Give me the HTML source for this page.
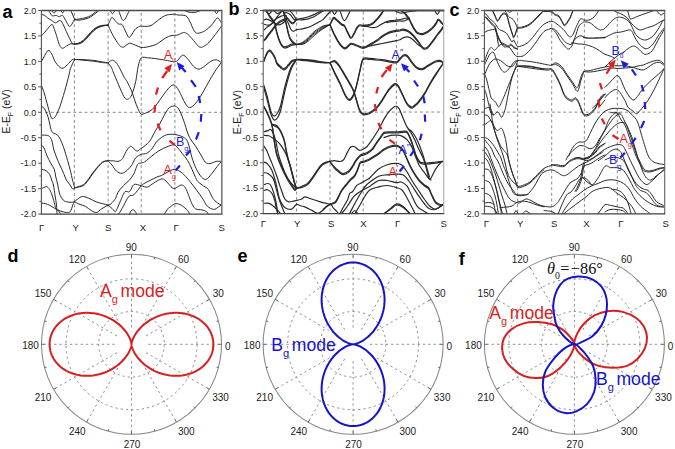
<!DOCTYPE html>
<html><head><meta charset="utf-8"><style>
html,body{margin:0;padding:0;background:#fff;width:675px;height:449px;overflow:hidden}
svg{display:block}
</style></head><body>
<svg width="675" height="449" viewBox="0 0 675 449">
<rect width="675" height="449" fill="#fff"/>
<g stroke="#8a8a8a" stroke-width="1" stroke-dasharray="3,2.63" fill="none">
<line x1="45.1" y1="112.3" x2="221.8" y2="112.3"/>
<line x1="74.4" y1="12.9" x2="74.4" y2="214.1"/>
<line x1="108.1" y1="12.9" x2="108.1" y2="214.1"/>
<line x1="141.2" y1="12.9" x2="141.2" y2="214.1"/>
<line x1="174.9" y1="12.9" x2="174.9" y2="214.1"/>
</g>
<g stroke="#2a2a2a" stroke-width="1" fill="none" stroke-linejoin="round" stroke-linecap="round">
<path d="M41.6,61.3 C42.12,60.33 43.6,57.32 44.7,55.5 C45.8,53.68 47.03,50.67 48.2,50.4 C49.37,50.13 50.47,51.88 51.7,53.9 C52.93,55.92 53.92,60.1 55.6,62.5 C57.28,64.9 59.85,67.92 61.8,68.3 C63.75,68.68 65.6,66.22 67.3,64.8 C69,63.38 70.82,60.7 72,59.8 C73.18,58.9 74,59.47 74.4,59.4"/>
<path d="M74.4,59.4 C75.33,59.42 78.07,59.43 80,59.5 C81.93,59.57 83.7,59.65 86,59.8 C88.3,59.95 91.2,60.07 93.8,60.4 C96.4,60.73 99.22,61.38 101.6,61.8 C103.98,62.22 107.02,62.72 108.1,62.9"/>
<path d="M74.4,59.4 C75.33,59.48 78.07,59.72 80,59.9 C81.93,60.08 83.7,60.28 86,60.5 C88.3,60.72 91.2,60.87 93.8,61.2 C96.4,61.53 99.22,62.22 101.6,62.5 C103.98,62.78 107.02,62.83 108.1,62.9"/>
<path d="M108.1,62.9 C108.7,62.47 110.58,60.57 111.7,60.3 C112.82,60.03 113.63,60.28 114.8,61.3 C115.97,62.32 117.13,63.73 118.7,66.4 C120.27,69.07 122.8,74.77 124.2,77.3 C125.6,79.83 125.82,79.18 127.1,81.6 C128.38,84.02 130.65,88.77 131.9,91.8 C133.15,94.83 133.62,97.03 134.6,99.8 C135.58,102.57 136.73,106.03 137.8,108.4 C138.87,110.77 139.75,113.2 141,114 C142.25,114.8 143.8,113.7 145.3,113.2 C146.8,112.7 148.32,112.2 150,111 C151.68,109.8 153.2,108.63 155.4,106 C157.6,103.37 160.87,98.3 163.2,95.2 C165.53,92.1 167.58,89.1 169.4,87.4 C171.22,85.7 172.53,84.48 174.1,85 C175.67,85.52 176.98,87.5 178.8,90.5 C180.62,93.5 183.18,100.15 185,103 C186.82,105.85 187.88,107.6 189.7,107.6 C191.52,107.6 193.82,105.33 195.9,103 C197.98,100.67 199.85,97.5 202.2,93.6 C204.55,89.7 207.67,83.62 210,79.6 C212.33,75.58 214.27,72.43 216.2,69.5 C218.13,66.57 220.7,63.25 221.6,62"/>
<path d="M108.1,62.9 C108.7,63.75 110.85,66.48 111.7,68 C112.55,69.52 112.05,69.2 113.2,72 C114.35,74.8 116.82,80.7 118.6,84.8 C120.38,88.9 122.48,94.18 123.9,96.6 C125.32,99.02 126.12,99.12 127.1,99.3 C128.08,99.48 129,98.5 129.8,97.7 C130.6,96.9 130.92,97.18 131.9,94.5 C132.88,91.82 134.65,86.28 135.7,81.6 C136.75,76.92 137.27,70.37 138.2,66.4 C139.13,62.43 139.73,59.23 141.3,57.8 C142.87,56.37 145.25,57.67 147.6,57.8 C149.95,57.93 152.8,58.27 155.4,58.6 C158,58.93 160.6,59.35 163.2,59.8 C165.8,60.25 169.05,60.95 171,61.3 C172.95,61.65 173.73,62.1 174.9,61.9 C176.07,61.7 176.7,61.23 178,60.1 C179.3,58.97 181.13,55.35 182.7,55.1 C184.27,54.85 185.58,56.72 187.4,58.6 C189.22,60.48 191.67,64.65 193.6,66.4 C195.53,68.15 197.05,69.23 199,69.1 C200.95,68.97 203.35,66.9 205.3,65.6 C207.25,64.3 208.88,62.27 210.7,61.3 C212.52,60.33 214.43,59.6 216.2,59.8 C217.97,60 220.45,62.05 221.3,62.5"/>
<path d="M41.7,86.1 C42.17,87.4 43.48,90.55 44.5,93.9 C45.52,97.25 46.7,102.3 47.8,106.2 C48.9,110.1 50.27,115.25 51.1,117.3 C51.93,119.35 52.05,118.68 52.8,118.5 C53.55,118.32 54.4,118.25 55.6,116.2 C56.8,114.15 58.52,110.28 60,106.2 C61.48,102.12 63,96.9 64.5,91.7 C66,86.5 68.02,78.83 69,75 C69.98,71.17 69.5,71.23 70.4,68.7 C71.3,66.17 73.73,61.28 74.4,59.8"/>
<path d="M41.7,106.1 C42.17,106.57 43.58,107.5 44.5,108.9 C45.42,110.3 46.47,112.63 47.2,114.5 C47.93,116.37 48.33,117.87 48.9,120.1 C49.47,122.33 50.03,125.87 50.6,127.9 C51.17,129.93 51.47,131.28 52.3,132.3 C53.13,133.32 54.48,133.25 55.6,134 C56.72,134.75 57.98,135.4 59,136.8 C60.02,138.2 60.85,140.38 61.7,142.4 C62.55,144.42 63.12,145.88 64.1,148.9 C65.08,151.92 66.57,156.93 67.6,160.5 C68.63,164.07 69.48,167.05 70.3,170.3 C71.12,173.55 71.93,177.72 72.5,180 C73.07,182.28 73.35,182.73 73.7,184 C74.05,185.27 74.45,187 74.6,187.6"/>
<path d="M41.7,135.1 C42.72,135.17 46.32,135.03 47.8,135.5 C49.28,135.97 49.85,136.75 50.6,137.9 C51.35,139.05 51.75,140.38 52.3,142.4 C52.85,144.42 52.98,146.98 53.9,150 C54.82,153.02 56.4,157.12 57.8,160.5 C59.2,163.88 61.15,167.72 62.3,170.3 C63.45,172.88 64.03,174.38 64.7,176 C65.37,177.62 65.52,178.67 66.3,180 C67.08,181.33 68.33,182.5 69.4,184 C70.47,185.5 71.83,188.37 72.7,189 C73.57,189.63 74.28,188 74.6,187.8"/>
<path d="M41.7,145.2 C42.08,145.67 43.1,146.2 44,148 C44.9,149.8 45.98,153.47 47.1,156 C48.22,158.53 49.5,160.97 50.7,163.2 C51.9,165.43 53.48,167.27 54.3,169.4 C55.12,171.53 55.02,173.4 55.6,176 C56.18,178.6 57.13,182.03 57.8,185 C58.47,187.97 58.7,191.3 59.6,193.8 C60.5,196.3 62.02,198.67 63.2,200 C64.38,201.33 65.37,201.42 66.7,201.8 C68.03,202.18 69.92,202.3 71.2,202.3 C72.48,202.3 73.87,201.88 74.4,201.8"/>
<path d="M41.8,169.4 C42.53,169.62 44.87,169.82 46.2,170.7 C47.53,171.58 48.9,173.15 49.8,174.7 C50.7,176.25 51,178.28 51.6,180 C52.2,181.72 52.82,182.33 53.4,185 C53.98,187.67 54.58,192.67 55.1,196 C55.62,199.33 56.18,202 56.5,205 C56.82,208 56.92,212.5 57,214"/>
<path d="M41.8,188.5 C42.53,188.2 45.02,186.7 46.2,186.7 C47.38,186.7 48,187.32 48.9,188.5 C49.8,189.68 50.7,191.43 51.6,193.8 C52.5,196.17 53.57,200.17 54.3,202.7 C55.03,205.23 55.27,207.63 56,209 C56.73,210.37 57.95,210.05 58.7,210.9 C59.45,211.75 60.2,213.57 60.5,214.1"/>
<path d="M41.8,203.2 C42.38,203.27 43.97,203.23 45.3,203.6 C46.63,203.97 48.3,204.65 49.8,205.4 C51.3,206.15 52.97,207.35 54.3,208.1 C55.63,208.85 56.47,209.32 57.8,209.9 C59.13,210.48 60.82,211.17 62.3,211.6 C63.78,212.03 65.37,212.5 66.7,212.5 C68.03,212.5 69.25,212.93 70.3,211.6 C71.35,210.27 72.32,206.13 73,204.5 C73.68,202.87 74.17,202.25 74.4,201.8"/>
<path d="M74.5,188 C75.32,187.82 77.92,187.3 79.4,186.9 C80.88,186.5 82.07,186.52 83.4,185.6 C84.73,184.68 85.53,183.78 87.4,181.4 C89.27,179.02 92.1,174.43 94.6,171.3 C97.1,168.17 100.18,164.35 102.4,162.6 C104.62,160.85 106.98,161.1 107.9,160.8"/>
<path d="M74.5,188 C75.32,187.72 77.92,186.87 79.4,186.3 C80.88,185.73 82.07,185.58 83.4,184.6 C84.73,183.62 85.53,182.75 87.4,180.4 C89.27,178.05 92.1,173.53 94.6,170.5 C97.1,167.47 100.18,163.82 102.4,162.2 C104.62,160.58 106.98,161.03 107.9,160.8"/>
<path d="M74.4,201.8 C75.33,201.07 78.47,198.28 80,197.4 C81.53,196.52 82.12,196.35 83.6,196.5 C85.08,196.65 86.83,197.42 88.9,198.3 C90.97,199.18 93.77,200.92 96,201.8 C98.23,202.68 100.28,203.07 102.3,203.6 C104.32,204.13 107.13,204.77 108.1,205"/>
<path d="M74.4,201.8 C75.33,202.25 78.18,203.75 80,204.5 C81.82,205.25 83.37,205.27 85.3,206.3 C87.23,207.33 89.73,209.67 91.6,210.7 C93.47,211.73 94.87,212.78 96.5,212.5 C98.13,212.22 99.47,210.25 101.4,209 C103.33,207.75 106.98,205.67 108.1,205"/>
<path d="M107.9,160.8 C108.8,160.8 111.62,160.7 113.3,160.8 C114.98,160.9 116.47,161.75 118,161.4 C119.53,161.05 121.17,160.33 122.5,158.7 C123.83,157.07 124.67,153.68 126,151.6 C127.33,149.52 129.17,146.65 130.5,146.2 C131.83,145.75 132.88,148.08 134,148.9 C135.12,149.72 136.15,151.1 137.2,151.1 C138.25,151.1 139.2,149.63 140.3,148.9 C141.4,148.17 142.62,147.58 143.8,146.7 C144.98,145.82 146.28,144.72 147.4,143.6 C148.52,142.48 149.23,142.02 150.5,140 C151.77,137.98 153.4,134.3 155,131.5 C156.6,128.7 157.95,126.92 160.1,123.2 C162.25,119.48 165.57,112.07 167.9,109.2 C170.23,106.33 172.28,106 174.1,106 C175.92,106 177.23,106.85 178.8,109.2 C180.37,111.55 181.95,115.95 183.5,120.1 C185.05,124.25 186.82,130.78 188.1,134.1 C189.38,137.42 189.95,137.98 191.2,140 C192.45,142.02 193.97,143.68 195.6,146.2 C197.23,148.72 199.37,152.42 201,155.1 C202.63,157.78 203.92,160.88 205.4,162.3 C206.88,163.72 208.12,163.75 209.9,163.6 C211.68,163.45 214.18,161.77 216.1,161.4 C218.02,161.03 220.52,161.4 221.4,161.4"/>
<path d="M107.9,160.8 C108.58,161.5 110.58,163.3 112,165 C113.42,166.7 114.75,169.62 116.4,171 C118.05,172.38 120.08,173.43 121.9,173.3 C123.72,173.17 125.62,171.63 127.3,170.2 C128.98,168.77 130.58,166.77 132,164.7 C133.42,162.63 134.27,159.53 135.8,157.8 C137.33,156.07 139.42,155.03 141.2,154.3 C142.98,153.57 144.72,154.3 146.5,153.4 C148.28,152.5 150.32,150.72 151.9,148.9 C153.48,147.08 154.63,144.23 156,142.5 C157.37,140.77 158.38,139.77 160.1,138.5 C161.82,137.23 163.97,135.58 166.3,134.9 C168.63,134.22 171.5,134.13 174.1,134.4 C176.7,134.67 179.8,135.57 181.9,136.5 C184,137.43 185.45,138.23 186.7,140 C187.95,141.77 188.52,144.13 189.4,147.1 C190.28,150.07 190.82,154.08 192,157.8 C193.18,161.52 194.87,166.13 196.5,169.4 C198.13,172.67 200.17,175.77 201.8,177.4 C203.43,179.03 204.67,179.8 206.3,179.2 C207.93,178.6 209.82,175.88 211.6,173.8 C213.38,171.72 215.37,168.77 217,166.7 C218.63,164.63 220.67,162.28 221.4,161.4"/>
<path d="M108.1,205 C108.62,204.77 109.95,204.72 111.2,203.6 C112.45,202.48 114.47,200.18 115.6,198.3 C116.73,196.42 116.72,194.38 118,192.3 C119.28,190.22 121.38,187.85 123.3,185.8 C125.22,183.75 127.72,182.05 129.5,180 C131.28,177.95 132.65,176.08 134,173.5 C135.35,170.92 136.4,166.25 137.6,164.5 C138.8,162.75 140.02,163.45 141.2,163 C142.38,162.55 142.92,162.97 144.7,161.8 C146.48,160.63 149.52,157.85 151.9,156 C154.28,154.15 156.32,152.3 159,150.7 C161.68,149.1 165.47,147.37 168,146.4 C170.53,145.43 172.57,144.63 174.2,144.9 C175.83,145.17 176.47,146.58 177.8,148 C179.13,149.42 180.57,151.32 182.2,153.4 C183.83,155.48 185.97,157.83 187.6,160.5 C189.23,163.17 190.52,166.23 192,169.4 C193.48,172.57 195.42,177.37 196.5,179.5 C197.58,181.63 197.27,181.08 198.5,182.2 C199.73,183.32 202.27,185 203.9,186.2 C205.53,187.4 206.82,187.38 208.3,189.4 C209.78,191.42 211.32,196.08 212.8,198.3 C214.28,200.52 215.8,201.58 217.2,202.7 C218.6,203.82 220.53,204.62 221.2,205"/>
<path d="M108.1,205 C108.77,205.58 110.92,207.4 112.1,208.5 C113.28,209.6 114.32,211.67 115.2,211.6 C116.08,211.53 116.33,210.32 117.4,208.1 C118.47,205.88 120.32,201.05 121.6,198.3 C122.88,195.55 123.77,192.72 125.1,191.6 C126.43,190.48 128.12,192.78 129.6,191.6 C131.08,190.42 132.07,185.47 134,184.5 C135.93,183.53 138.97,185.37 141.2,185.8 C143.43,186.23 145.33,187.55 147.4,187.1 C149.47,186.65 151.37,184.43 153.6,183.1 C155.83,181.77 159.02,179.68 160.8,179.1 C162.58,178.52 163.12,178.93 164.3,179.6 C165.48,180.27 166.62,181.77 167.9,183.1 C169.18,184.43 170.83,186.72 172,187.6 C173.17,188.48 173.33,188.83 174.9,188.4 C176.47,187.97 179.65,185.1 181.4,185 C183.15,184.9 184.18,186.03 185.4,187.8 C186.62,189.57 187.55,192.82 188.7,195.6 C189.85,198.38 191.12,202.27 192.3,204.5 C193.48,206.73 194.17,208.1 195.8,209 C197.43,209.9 200.32,209.47 202.1,209.9 C203.88,210.33 205.47,210.9 206.5,211.6 C207.53,212.3 208,213.68 208.3,214.1"/>
<path d="M118.9,213.8 C119.63,212.55 121.67,209.18 123.3,206.3 C124.93,203.42 126.92,198.43 128.7,196.5 C130.48,194.57 131.92,196.48 134,194.7 C136.08,192.92 139.12,187.88 141.2,185.8 C143.28,183.72 144.43,183.38 146.5,182.2 C148.57,181.02 151.68,179.65 153.6,178.7 C155.52,177.75 156.67,177.03 158,176.5 C159.33,175.97 159.97,176.27 161.6,175.5 C163.23,174.73 165.72,172.93 167.8,171.9 C169.88,170.87 172.32,169.52 174.1,169.3 C175.88,169.08 176.87,169.72 178.5,170.6 C180.13,171.48 181.9,172.67 183.9,174.6 C185.9,176.53 188.37,179.58 190.5,182.2 C192.63,184.82 194.62,187.47 196.7,190.3 C198.78,193.13 201.22,196.53 203,199.2 C204.78,201.87 205.62,204.6 207.4,206.3 C209.18,208 211.92,209.25 213.7,209.4 C215.48,209.55 216.85,207.93 218.1,207.2 C219.35,206.47 220.68,205.37 221.2,205"/>
<path d="M164.3,214.1 C164.92,213.17 167.05,209.65 168,208.5 C168.95,207.35 168.78,208.02 170,207.2 C171.22,206.38 173.37,203.9 175.3,203.6 C177.23,203.3 179.52,204.2 181.6,205.4 C183.68,206.6 186.47,209.35 187.8,210.8 C189.13,212.25 189.3,213.55 189.6,214.1"/>
<path d="M129.6,214.1 C129.83,213.58 130.48,211.7 131,211 C131.52,210.3 132.07,209.93 132.7,209.9 C133.33,209.87 134.13,210.1 134.8,210.8 C135.47,211.5 136.38,213.55 136.7,214.1"/>
<path d="M48.6,10.5 C49.12,11.32 50.8,14.52 51.7,15.4 C52.6,16.28 53.22,15.8 54,15.8 C54.78,15.8 55.62,15.27 56.4,15.4 C57.18,15.53 57.93,16.53 58.7,16.6 C59.47,16.67 60.35,16 61,15.8 C61.65,15.6 61.82,14.62 62.6,15.4 C63.38,16.18 64.67,18.75 65.7,20.5 C66.73,22.25 68.08,24.9 68.8,25.9 C69.52,26.9 69.47,26.82 70,26.5 C70.53,26.18 71.25,25.2 72,24 C72.75,22.8 74.08,20.08 74.5,19.3"/>
<path d="M41.6,14.6 C42.12,14.73 43.67,14.82 44.7,15.4 C45.73,15.98 46.63,17.25 47.8,18.1 C48.97,18.95 50.4,19.72 51.7,20.5 C53,21.28 54.17,22.8 55.6,22.8 C57.03,22.8 59,20.12 60.3,20.5 C61.6,20.88 62.23,22.9 63.4,25.1 C64.57,27.3 65.87,30.72 67.3,33.7 C68.73,36.68 70.83,41.25 72,43 C73.17,44.75 73.92,44 74.3,44.2"/>
<path d="M41.6,35.7 C42.37,34.85 44.52,32.48 46.2,30.6 C47.88,28.72 50.4,24.78 51.7,24.4 C53,24.02 53.22,26.48 54,28.3 C54.78,30.12 55.62,32.85 56.4,35.3 C57.18,37.75 58.05,41.13 58.7,43 C59.35,44.87 59.65,45.62 60.3,46.5 C60.95,47.38 61.57,48.37 62.6,48.3 C63.63,48.23 65.2,46.85 66.5,46.1 C67.8,45.35 69.1,44.12 70.4,43.8 C71.7,43.48 73.65,44.13 74.3,44.2"/>
<path d="M70.8,10.5 L74.5,19"/>
<path d="M51.7,10.5 C52.08,10.92 53.22,13 54,13 C54.78,13 56,10.92 56.4,10.5"/>
<path d="M61,10.5 C61.27,10.92 62.07,13 62.6,13 C63.13,13 63.93,10.92 64.2,10.5"/>
<path d="M74.3,44.2 C75.33,43.88 78.55,43.4 80.5,42.3 C82.45,41.2 84.3,39.28 86,37.6 C87.7,35.92 89.02,33.88 90.7,32.2 C92.38,30.52 94.28,28.62 96.1,27.5 C97.92,26.38 99.6,25.9 101.6,25.5 C103.6,25.1 107.02,25.17 108.1,25.1"/>
<path d="M74.3,44.2 C75.33,43.97 78.55,43.77 80.5,42.8 C82.45,41.83 84.3,40.03 86,38.4 C87.7,36.77 89.02,34.7 90.7,33 C92.38,31.3 94.28,29.37 96.1,28.2 C97.92,27.03 99.6,26.52 101.6,26 C103.6,25.48 107.02,25.25 108.1,25.1"/>
<path d="M74.3,44.2 C75.33,44.07 78.55,44.23 80.5,43.4 C82.45,42.57 84.3,40.8 86,39.2 C87.7,37.6 89.02,35.53 90.7,33.8 C92.38,32.07 94.28,30.03 96.1,28.8 C97.92,27.57 99.6,27.02 101.6,26.4 C103.6,25.78 107.02,25.32 108.1,25.1"/>
<path d="M74.5,19.3 C75.25,19.27 77.08,19.38 79,19.1 C80.92,18.82 84.05,18.18 86,17.6 C87.95,17.02 89.13,16.5 90.7,15.6 C92.27,14.7 94.27,13.05 95.4,12.2 C96.53,11.35 97.15,10.78 97.5,10.5"/>
<path d="M74.5,19.6 C75.25,19.7 77.08,20.33 79,20.2 C80.92,20.07 84.05,19.37 86,18.8 C87.95,18.23 89.13,17.7 90.7,16.8 C92.27,15.9 94.03,14.45 95.4,13.4 C96.77,12.35 98.32,10.98 98.9,10.5"/>
<path d="M108.1,25.1 C108.42,24.33 109.33,21.78 110,20.5 C110.67,19.22 111.17,17.28 112.1,17.4 C113.03,17.52 114.5,20.1 115.6,21.2 C116.7,22.3 117.65,23.47 118.7,24 C119.75,24.53 120.98,23.68 121.9,24.4 C122.82,25.12 123.43,26.78 124.2,28.3 C124.97,29.82 125.7,31.98 126.5,33.5 C127.3,35.02 128.17,37.15 129,37.4 C129.83,37.65 130.57,36.23 131.5,35 C132.43,33.77 133.68,31.2 134.6,30 C135.52,28.8 136.13,28.42 137,27.8 C137.87,27.18 139.1,26.57 139.8,26.3 C140.5,26.03 139.9,26.2 141.2,26.2 C142.5,26.2 145.75,26.53 147.6,26.3 C149.45,26.07 150.62,25.77 152.3,24.8 C153.98,23.83 155.63,22 157.7,20.5 C159.77,19 162.75,16.78 164.7,15.8 C166.65,14.82 167.7,14.87 169.4,14.6 C171.1,14.33 173.47,14.13 174.9,14.2 C176.33,14.27 176.18,14.73 178,15 C179.82,15.27 183.85,14.77 185.8,15.8 C187.75,16.83 188.4,18.87 189.7,21.2 C191,23.53 192.3,27.78 193.6,29.8 C194.9,31.82 195.55,33.17 197.5,33.3 C199.45,33.43 202.97,31.97 205.3,30.6 C207.63,29.23 209.55,27.18 211.5,25.1 C213.45,23.02 215.67,18.98 217,18.1 C218.33,17.22 218.73,18.95 219.5,19.8 C220.27,20.65 221.25,22.63 221.6,23.2"/>
<path d="M108.1,25.1 C108.7,26.42 110.18,30.13 111.7,33 C113.22,35.87 115.77,40.12 117.2,42.3 C118.63,44.48 119.27,45.28 120.3,46.1 C121.33,46.92 122.37,47.38 123.4,47.2 C124.43,47.02 125.45,45.67 126.5,45 C127.55,44.33 128.7,43.37 129.7,43.2 C130.7,43.03 131.52,43.67 132.5,44 C133.48,44.33 134.18,44.63 135.6,45.2 C137.02,45.77 139.27,47.07 141,47.4 C142.73,47.73 143.87,47.55 146,47.2 C148.13,46.85 151.72,46 153.8,45.3 C155.88,44.6 156.55,44.22 158.5,43 C160.45,41.78 163.42,39.22 165.5,38 C167.58,36.78 169.43,36.15 171,35.7 C172.57,35.25 173.73,35.43 174.9,35.3 C176.07,35.17 176.57,35.35 178,34.9 C179.43,34.45 181.82,32.67 183.5,32.6 C185.18,32.53 186.17,32.88 188.1,34.5 C190.03,36.12 193.4,40.37 195.1,42.3 C196.8,44.23 197.25,45.27 198.3,46.1 C199.35,46.93 200.23,47.43 201.4,47.3 C202.57,47.17 204.13,46.02 205.3,45.3 C206.47,44.58 206.72,44.8 208.4,43 C210.08,41.2 213.2,37.35 215.4,34.5 C217.6,31.65 220.57,27.33 221.6,25.9"/>
<path d="M110.2,10.5 C110.58,11.05 111.73,13.8 112.5,13.8 C113.27,13.8 114.42,11.05 114.8,10.5"/>
<path d="M118.7,10.5 C119.48,12.17 121.63,20.5 123.4,20.5 C125.17,20.5 128.32,12.17 129.3,10.5"/>
<path d="M185,10.8 C185.67,11.03 187.33,11.95 189,12.2 C190.67,12.45 193.2,12.53 195,12.3 C196.8,12.07 199,11.05 199.8,10.8"/>
<path d="M214.6,10.5 C214.92,11 215.85,13.5 216.5,13.5 C217.15,13.5 218.17,11 218.5,10.5"/>
</g>
<g stroke="#e41c1c" stroke-width="2.2" stroke-linecap="butt"><line x1="174.5" y1="144.8" x2="169.5" y2="140.7"/><line x1="160.5" y1="130.2" x2="157.5" y2="123.5"/><line x1="154.5" y1="112.5" x2="155.2" y2="105"/><line x1="156" y1="94.6" x2="158" y2="87.5"/><line x1="162.2" y1="78.2" x2="167.2" y2="71"/></g><path d="M172.1,64.1 L169.61,72.47 L164.26,67.95 Z" fill="#e41c1c"/>
<g stroke="#1c1ce0" stroke-width="2.2" stroke-linecap="butt"><line x1="175.5" y1="170.5" x2="180" y2="165.4"/><line x1="186" y1="155.5" x2="190.5" y2="150.2"/><line x1="196" y1="139.5" x2="198.8" y2="132.2"/><line x1="200.8" y1="121.8" x2="201.3" y2="114"/><line x1="200.2" y1="103" x2="198.8" y2="96"/><line x1="195.8" y1="86.8" x2="191" y2="80.2"/><line x1="185.7" y1="71.9" x2="181.5" y2="67.3"/></g><path d="M176.8,62.1 L184.57,66.08 L179.16,70.51 Z" fill="#1c1ce0"/>
<text x="163.9" y="58.6" font-family="Liberation Sans, sans-serif" font-size="12.5" fill="#e41c1c">A<tspan font-size="6.5" dy="3.8">u</tspan></text>
<text x="175.9" y="146.3" font-family="Liberation Sans, sans-serif" font-size="12.5" fill="#1c1ce0">B<tspan font-size="7.5" dy="4.6">g</tspan></text>
<text x="163.4" y="174.2" font-family="Liberation Sans, sans-serif" font-size="12.5" fill="#e41c1c">A<tspan font-size="7.5" dy="4.6">g</tspan></text>
<line x1="41.4" y1="10.5" x2="41.4" y2="214.1" stroke="#505050" stroke-width="1.1"/>
<line x1="221.8" y1="10.5" x2="221.8" y2="214.1" stroke="#707070" stroke-width="1.5"/>
<line x1="40.8" y1="10.5" x2="222.4" y2="10.5" stroke="#4a4a4a" stroke-width="1.5"/>
<line x1="40.8" y1="214.1" x2="222.4" y2="214.1" stroke="#404040" stroke-width="1.3"/>
<g stroke="#555" stroke-width="1">
<line x1="38.1" y1="10.5" x2="41.4" y2="10.5"/>
<line x1="39.4" y1="23.23" x2="41.4" y2="23.23"/>
<line x1="38.1" y1="35.95" x2="41.4" y2="35.95"/>
<line x1="39.4" y1="48.67" x2="41.4" y2="48.67"/>
<line x1="38.1" y1="61.4" x2="41.4" y2="61.4"/>
<line x1="39.4" y1="74.12" x2="41.4" y2="74.12"/>
<line x1="38.1" y1="86.85" x2="41.4" y2="86.85"/>
<line x1="39.4" y1="99.58" x2="41.4" y2="99.58"/>
<line x1="38.1" y1="112.3" x2="41.4" y2="112.3"/>
<line x1="39.4" y1="125.02" x2="41.4" y2="125.02"/>
<line x1="38.1" y1="137.75" x2="41.4" y2="137.75"/>
<line x1="39.4" y1="150.47" x2="41.4" y2="150.47"/>
<line x1="38.1" y1="163.2" x2="41.4" y2="163.2"/>
<line x1="39.4" y1="175.92" x2="41.4" y2="175.92"/>
<line x1="38.1" y1="188.65" x2="41.4" y2="188.65"/>
<line x1="39.4" y1="201.38" x2="41.4" y2="201.38"/>
<line x1="38.1" y1="214.1" x2="41.4" y2="214.1"/>
</g>
<g font-family="Liberation Sans, sans-serif" font-size="9" fill="#222" text-anchor="end">
<text x="36.2" y="13.7">2.0</text>
<text x="36.2" y="39.15">1.5</text>
<text x="36.2" y="64.6">1.0</text>
<text x="36.2" y="90.05">0.5</text>
<text x="36.2" y="115.5">0.0</text>
<text x="36.2" y="140.95">-0.5</text>
<text x="36.2" y="166.4">-1.0</text>
<text x="36.2" y="191.85">-1.5</text>
<text x="36.2" y="217.3">-2.0</text>
</g>
<g font-family="Liberation Sans, sans-serif" font-size="9.6" fill="#222" text-anchor="middle">
<text x="41.6" y="230.6">Γ</text>
<text x="75.6" y="230.6">Y</text>
<text x="108.2" y="230.6">S</text>
<text x="142.9" y="230.6">X</text>
<text x="176.2" y="230.6">Γ</text>
<text x="221.6" y="230.6">S</text>
</g>
<text transform="translate(10.3,111.4) rotate(-90)" font-family="Liberation Sans, sans-serif" font-size="10.4" fill="#222" text-anchor="middle">E-E<tspan font-size="7" dy="2.5">F</tspan><tspan dy="-2.5"> (eV)</tspan></text>
<text x="2.6" y="17.6" font-family="Liberation Sans, sans-serif" font-size="18" font-weight="bold" fill="#000">a</text>
<g stroke="#8a8a8a" stroke-width="1" stroke-dasharray="3,2.63" fill="none">
<line x1="268" y1="112.05" x2="443.7" y2="112.05"/>
<line x1="296.6" y1="11.4" x2="296.6" y2="213.6"/>
<line x1="330" y1="11.4" x2="330" y2="213.6"/>
<line x1="363.2" y1="11.4" x2="363.2" y2="213.6"/>
<line x1="396.4" y1="11.4" x2="396.4" y2="213.6"/>
</g>
<g stroke="#2a2a2a" stroke-width="1" fill="none" stroke-linejoin="round" stroke-linecap="round">
<path d="M266.2,10.8 C266.75,11.58 268.33,13.93 269.5,15.5 C270.67,17.07 272.27,18.8 273.2,20.2 C274.13,21.6 274.63,22.5 275.1,23.9 C275.57,25.3 275.62,26.88 276,28.6 C276.38,30.32 276.85,32.33 277.4,34.2 C277.95,36.07 278.6,38.08 279.3,39.8 C280,41.52 280.73,43.33 281.6,44.5 C282.47,45.67 283.4,46.58 284.5,46.8 C285.6,47.02 286.95,46.27 288.2,45.8 C289.45,45.33 290.62,44.2 292,44 C293.38,43.8 295.75,44.5 296.5,44.6" stroke-width="1.2"/>
<path d="M266.2,10.8 C266.75,11.78 268.33,14.93 269.5,16.7 C270.67,18.47 272.27,20 273.2,21.4 C274.13,22.8 274.63,23.7 275.1,25.1 C275.57,26.5 275.62,28.08 276,29.8 C276.38,31.52 276.85,33.53 277.4,35.4 C277.95,37.27 278.6,39.28 279.3,41 C280,42.72 280.73,44.53 281.6,45.7 C282.47,46.87 283.4,47.78 284.5,48 C285.6,48.22 286.95,47.47 288.2,47 C289.45,46.53 290.62,45.6 292,45.2 C293.38,44.8 295.75,44.7 296.5,44.6" stroke-width="1.2"/>
<path d="M283.5,10.8 C283.68,11.67 284.28,14.43 284.6,16 C284.92,17.57 285.03,18.57 285.4,20.2 C285.77,21.83 286.33,23.78 286.8,25.8 C287.27,27.82 287.65,30.28 288.2,32.3 C288.75,34.32 289.32,36.33 290.1,37.9 C290.88,39.47 291.83,40.62 292.9,41.7 C293.97,42.78 295.9,43.95 296.5,44.4" stroke-width="1.2"/>
<path d="M283.5,10.8 C283.68,11.83 284.28,15.27 284.6,17 C284.92,18.73 285.03,19.57 285.4,21.2 C285.77,22.83 286.33,24.78 286.8,26.8 C287.27,28.82 287.65,31.28 288.2,33.3 C288.75,35.32 289.32,37.33 290.1,38.9 C290.88,40.47 291.83,41.78 292.9,42.7 C293.97,43.62 295.9,44.12 296.5,44.4" stroke-width="1.2"/>
<path d="M263.4,20.2 C263.95,20.03 265.37,19.05 266.7,19.2 C268.03,19.35 270,20.4 271.4,21.1 C272.8,21.8 273.93,22.78 275.1,23.4 C276.27,24.02 277.33,24.7 278.4,24.8 C279.47,24.9 280.47,24.55 281.5,24 C282.53,23.45 283.77,22.42 284.6,21.5 C285.43,20.58 286.18,19 286.5,18.5" stroke-width="1.2"/>
<path d="M263.4,30.5 C263.95,30.02 265.68,28.43 266.7,27.6 C267.72,26.77 268.57,26.27 269.5,25.5 C270.43,24.73 271.47,23.83 272.3,23 C273.13,22.17 273.72,21.28 274.5,20.5 C275.28,19.72 275.97,18.98 277,18.3 C278.03,17.62 279.62,16.87 280.7,16.4 C281.78,15.93 282.62,15.65 283.5,15.5 C284.38,15.35 285.58,15.5 286,15.5" stroke-width="1.2"/>
<path d="M263.4,41.2 C263.8,40.63 264.95,38.97 265.8,37.8 C266.65,36.63 267.57,35.42 268.5,34.2 C269.43,32.98 270.45,31.75 271.4,30.5 C272.35,29.25 273.27,27.87 274.2,26.7 C275.13,25.53 276.03,24.45 277,23.5 C277.97,22.55 279,21.67 280,21 C281,20.33 282,19.83 283,19.5 C284,19.17 285.5,19.08 286,19" stroke-width="1.2"/>
<path d="M263.4,41.2 C263.8,40.83 264.95,39.97 265.8,39 C266.65,38.03 267.57,36.62 268.5,35.4 C269.43,34.18 270.45,32.95 271.4,31.7 C272.35,30.45 273.27,29.07 274.2,27.9 C275.13,26.73 276.03,25.65 277,24.7 C277.97,23.75 279,22.87 280,22.2 C281,21.53 282,21.23 283,20.7 C284,20.17 285.5,19.28 286,19" stroke-width="1.2"/>
<path d="M263.4,24 C263.95,24.17 265.53,24.87 266.7,25 C267.87,25.13 269.35,25.22 270.4,24.8 C271.45,24.38 272.07,23.55 273,22.5 C273.93,21.45 275,19.83 276,18.5 C277,17.17 278.17,15.58 279,14.5 C279.83,13.42 280.5,12.62 281,12 C281.5,11.38 281.83,11 282,10.8" stroke-width="1.2"/>
<path d="M266.5,10.8 C266.92,11.33 268.08,14 269,14 C269.92,14 271.5,11.33 272,10.8" stroke-width="1.2"/>
<path d="M274,10.8 C274.5,11.25 276,13.22 277,13.5 C278,13.78 279,12.95 280,12.5 C281,12.05 282.5,11.08 283,10.8" stroke-width="1.2"/>
<path d="M283.5,13.5 C283.97,13.37 285.2,12.53 286.3,12.7 C287.4,12.87 288.85,13.42 290.1,14.5 C291.35,15.58 292.73,18.28 293.8,19.2 C294.87,20.12 296.05,19.87 296.5,20" stroke-width="1.2"/>
<path d="M286,19 C286.37,19.67 287.37,21.25 288.2,23 C289.03,24.75 290.12,28.12 291,29.5 C291.88,30.88 292.58,31.28 293.5,31.3 C294.42,31.32 295,30.02 296.5,29.6 C298,29.18 300.15,29.32 302.5,28.8 C304.85,28.28 308.02,27.55 310.6,26.5 C313.18,25.45 315.93,23.65 318,22.5 C320.07,21.35 321.33,21.02 323,19.6 C324.67,18.18 326.67,15.47 328,14 C329.33,12.53 330.5,11.33 331,10.8" stroke-width="1.2"/>
<path d="M285.1,14.9 C285.67,15.67 287.23,18.15 288.5,19.5 C289.77,20.85 291.37,23 292.7,23 C294.03,23 294.95,20.27 296.5,19.5 C298.05,18.73 300.03,18.85 302,18.4 C303.97,17.95 306.3,17.43 308.3,16.8 C310.3,16.17 312.45,15.27 314,14.6 C315.55,13.93 316.35,13.43 317.6,12.8 C318.85,12.17 320.85,11.13 321.5,10.8" stroke-width="1.2"/>
<path d="M285.8,15.9 C286.33,16.67 287.85,19.15 289,20.5 C290.15,21.85 291.45,24.08 292.7,24 C293.95,23.92 294.95,20.7 296.5,20 C298.05,19.3 300.03,20 302,19.8 C303.97,19.6 306.3,19.3 308.3,18.8 C310.3,18.3 312.22,17.68 314,16.8 C315.78,15.92 317.5,14.47 319,13.5 C320.5,12.53 322.33,11.42 323,11" stroke-width="1.2"/>
<path d="M289.8,10.8 C290.17,11.17 290.88,11.55 292,13 C293.12,14.45 295.75,18.42 296.5,19.5" stroke-width="1.2"/>
<path d="M296.5,44.4 C297.5,44.07 300.53,43.54 302.5,42.4 C304.47,41.26 306.37,39.34 308.3,37.56 C310.23,35.78 311.65,33.61 314.1,31.7 C316.55,29.79 320.35,27.23 323,26.08 C325.65,24.93 328.83,25.01 330,24.8" stroke-width="1.0"/>
<path d="M296.5,44.4 C297.5,44.17 300.53,44 302.5,43.05 C304.47,42.11 306.37,40.41 308.3,38.73 C310.23,37.06 311.65,34.96 314.1,33 C316.55,31.04 320.35,28.36 323,26.99 C325.65,25.62 328.83,25.16 330,24.8" stroke-width="1.0"/>
<path d="M296.5,44.4 C297.5,44.28 300.53,44.45 302.5,43.7 C304.47,42.95 306.37,41.47 308.3,39.9 C310.23,38.33 311.65,36.3 314.1,34.3 C316.55,32.3 320.35,29.48 323,27.9 C325.65,26.32 328.83,25.32 330,24.8" stroke-width="1.0"/>
<path d="M296.5,44.4 C297.5,44.39 300.53,44.91 302.5,44.35 C304.47,43.8 306.37,42.53 308.3,41.07 C310.23,39.61 311.65,37.64 314.1,35.6 C316.55,33.56 320.35,30.61 323,28.81 C325.65,27.01 328.83,25.47 330,24.8" stroke-width="1.0"/>
<path d="M330,24.8 C330.33,24 331.33,21.25 332,20 C332.67,18.75 333,17.18 334,17.3 C335,17.42 336.65,19.55 338,20.7 C339.35,21.85 341.02,23.4 342.1,24.2 C343.18,25 343.63,24.35 344.5,25.5 C345.37,26.65 346.25,29.1 347.3,31.1 C348.35,33.1 349.68,37.15 350.8,37.5 C351.92,37.85 353,34.85 354,33.2 C355,31.55 355.87,29 356.8,27.6 C357.73,26.2 358.55,25.18 359.6,24.8 C360.65,24.42 361.7,25.3 363.1,25.3 C364.5,25.3 366.4,25.18 368,24.8 C369.6,24.42 371.13,24.08 372.7,23 C374.27,21.92 376,19.87 377.4,18.3 C378.8,16.73 380.1,14.82 381.1,13.6 C382.1,12.38 383.02,11.43 383.4,11" stroke-width="1.2"/>
<path d="M330,24.8 C330.33,24.17 331.33,22.08 332,21 C332.67,19.92 333,18.18 334,18.3 C335,18.42 336.65,20.55 338,21.7 C339.35,22.85 341.02,24.4 342.1,25.2 C343.18,26 343.63,25.35 344.5,26.5 C345.37,27.65 346.25,30.1 347.3,32.1 C348.35,34.1 349.68,38.15 350.8,38.5 C351.92,38.85 353,35.85 354,34.2 C355,32.55 355.87,30 356.8,28.6 C357.73,27.2 358.55,26.18 359.6,25.8 C360.65,25.42 361.7,26.3 363.1,26.3 C364.5,26.3 366.4,26.18 368,25.8 C369.6,25.42 371.13,25.08 372.7,24 C374.27,22.92 376,20.87 377.4,19.3 C378.8,17.73 380.1,15.98 381.1,14.6 C382.1,13.22 383.02,11.6 383.4,11" stroke-width="1.2"/>
<path d="M363.1,25.3 C363.92,25.53 366.4,26.32 368,26.7 C369.6,27.08 371.13,27.6 372.7,27.6 C374.27,27.6 375.85,27.32 377.4,26.7 C378.95,26.08 380.45,24.75 382,23.9 C383.55,23.05 385.13,22.15 386.7,21.6 C388.27,21.05 389.83,20.85 391.4,20.6 C392.97,20.35 394.67,20.25 396.1,20.1 C397.53,19.95 398.87,19.92 400,19.7 C401.13,19.48 401.9,19.05 402.9,18.8 C403.9,18.55 405.02,18.37 406,18.2 C406.98,18.03 408.33,17.87 408.8,17.8" stroke-width="1.2"/>
<path d="M386.7,22.6 C387.48,22.45 389.83,21.92 391.4,21.7 C392.97,21.48 394.67,21.42 396.1,21.3 C397.53,21.18 398.87,21.02 400,21 C401.13,20.98 401.9,21.33 402.9,21.2 C403.9,21.07 404.9,20.65 406,20.2 C407.1,19.75 408.92,18.78 409.5,18.5" stroke-width="1.2"/>
<path d="M330,24.8 C330.77,26.43 333.07,31.62 334.6,34.6 C336.13,37.58 337.47,40.48 339.2,42.7 C340.93,44.92 343.07,47.8 345,47.9 C346.93,48 348.87,43.78 350.8,43.3 C352.73,42.82 354.55,44.33 356.6,45 C358.65,45.67 361.2,47.23 363.1,47.3 C365,47.37 366.4,46.18 368,45.4 C369.6,44.62 371.13,43.53 372.7,42.6 C374.27,41.67 375.85,40.9 377.4,39.8 C378.95,38.7 380.45,37.1 382,36 C383.55,34.9 385.13,33.97 386.7,33.2 C388.27,32.43 389.83,31.87 391.4,31.4 C392.97,30.93 394.67,30.63 396.1,30.4 C397.53,30.17 398.87,30.22 400,30 C401.13,29.78 401.6,29.02 402.9,29.1 C404.2,29.18 406.17,29.6 407.8,30.5 C409.43,31.4 411.07,32.85 412.7,34.5 C414.33,36.15 415.97,38.28 417.6,40.4 C419.23,42.52 421.35,45.9 422.5,47.2 C423.65,48.5 423.68,48.2 424.5,48.2 C425.32,48.2 426.1,48.35 427.4,47.2 C428.7,46.05 430.67,43.42 432.3,41.3 C433.93,39.18 435.73,36.45 437.2,34.5 C438.67,32.55 440.08,30.92 441.1,29.6 C442.12,28.28 442.93,27.1 443.3,26.6" stroke-width="1.2"/>
<path d="M330,24.8 C330.77,26.6 333.07,32.45 334.6,35.6 C336.13,38.75 337.47,41.48 339.2,43.7 C340.93,45.92 343.07,48.8 345,48.9 C346.93,49 348.87,44.78 350.8,44.3 C352.73,43.82 354.55,45.33 356.6,46 C358.65,46.67 361.2,48.23 363.1,48.3 C365,48.37 366.4,47.18 368,46.4 C369.6,45.62 371.13,44.53 372.7,43.6 C374.27,42.67 375.85,41.9 377.4,40.8 C378.95,39.7 380.45,38.1 382,37 C383.55,35.9 385.13,34.97 386.7,34.2 C388.27,33.43 389.83,32.87 391.4,32.4 C392.97,31.93 394.67,31.63 396.1,31.4 C397.53,31.17 398.87,31.22 400,31 C401.13,30.78 401.6,30.02 402.9,30.1 C404.2,30.18 406.17,30.6 407.8,31.5 C409.43,32.4 411.07,33.85 412.7,35.5 C414.33,37.15 415.97,39.28 417.6,41.4 C419.23,43.52 421.35,46.9 422.5,48.2 C423.65,49.5 423.68,49.2 424.5,49.2 C425.32,49.2 426.1,49.35 427.4,48.2 C428.7,47.05 430.67,44.42 432.3,42.3 C433.93,40.18 435.73,37.45 437.2,35.5 C438.67,33.55 440.08,32.08 441.1,30.6 C442.12,29.12 442.93,27.27 443.3,26.6" stroke-width="1.2"/>
<path d="M363.1,47.3 C363.92,47.17 366.4,46.82 368,46.5 C369.6,46.18 370.37,45.9 372.7,45.4 C375.03,44.9 378.88,44.13 382,43.5 C385.12,42.87 389.05,42.07 391.4,41.6 C393.75,41.13 394.67,41 396.1,40.7 C397.53,40.4 398.87,40.27 400,39.8 C401.13,39.33 401.6,38.38 402.9,37.9 C404.2,37.42 406.17,36.65 407.8,36.9 C409.43,37.15 411.07,38.17 412.7,39.4 C414.33,40.63 415.97,42.95 417.6,44.3 C419.23,45.65 421.68,46.97 422.5,47.5" stroke-width="1.2"/>
<path d="M401.9,11.2 C402.55,11.65 404.65,12.8 405.8,13.9 C406.95,15 407.98,16.5 408.8,17.8 C409.62,19.1 409.88,20.07 410.7,21.7 C411.52,23.33 412.55,25.8 413.7,27.6 C414.85,29.4 416.13,31.52 417.6,32.5 C419.07,33.48 420.87,33.67 422.5,33.5 C424.13,33.33 425.77,32.48 427.4,31.5 C429.03,30.52 430.83,29.07 432.3,27.6 C433.77,26.13 435.22,24.13 436.2,22.7 C437.18,21.27 437.38,19.17 438.2,19 C439.02,18.83 440.25,20.75 441.1,21.7 C441.95,22.65 442.93,24.2 443.3,24.7" stroke-width="1.2"/>
<path d="M401.9,11.2 C402.55,11.83 404.65,13.72 405.8,15 C406.95,16.28 407.98,17.6 408.8,18.9 C409.62,20.2 409.88,21.17 410.7,22.8 C411.52,24.43 412.55,26.9 413.7,28.7 C414.85,30.5 416.13,32.62 417.6,33.6 C419.07,34.58 420.87,34.77 422.5,34.6 C424.13,34.43 425.77,33.58 427.4,32.6 C429.03,31.62 430.83,30.17 432.3,28.7 C433.77,27.23 435.22,25.23 436.2,23.8 C437.18,22.37 437.38,20.27 438.2,20.1 C439.02,19.93 440.25,22.03 441.1,22.8 C441.95,23.57 442.93,24.38 443.3,24.7" stroke-width="1.2"/>
<path d="M332.3,10.8 C332.67,11.42 333.73,14.5 334.5,14.5 C335.27,14.5 336.5,11.42 336.9,10.8" stroke-width="1.2"/>
<path d="M340,10.8 C340.73,12.45 342.7,20.7 344.4,20.7 C346.1,20.7 349.23,12.45 350.2,10.8" stroke-width="1.2"/>
<path d="M435,10.8 C435.38,11.4 436.53,14.4 437.3,14.4 C438.07,14.4 439.22,11.4 439.6,10.8" stroke-width="1.2"/>
<path d="M395,10.8 C395.83,11.17 398.33,12.72 400,13 C401.67,13.28 403.33,12.75 405,12.5 C406.67,12.25 408.17,11.78 410,11.5 C411.83,11.22 415,10.92 416,10.8" stroke-width="1.2"/>
<path d="M263.6,61.8 C264.12,60.37 265.67,55.15 266.7,53.2 C267.73,51.25 268.5,49.58 269.8,50.1 C271.1,50.62 273.3,54.17 274.5,56.3 C275.7,58.43 275.97,61.2 277,62.9 C278.03,64.6 279.62,65.55 280.7,66.5 C281.78,67.45 282.62,68.43 283.5,68.6 C284.38,68.77 285.17,68.18 286,67.5 C286.83,66.82 287.48,65.65 288.5,64.5 C289.52,63.35 290.77,61.43 292.1,60.6 C293.43,59.77 295.77,59.68 296.5,59.5" stroke-width="1.2"/>
<path d="M263.6,61.8 C264.12,60.57 265.67,56.15 266.7,54.4 C267.73,52.65 268.5,50.78 269.8,51.3 C271.1,51.82 273.3,55.37 274.5,57.5 C275.7,59.63 275.97,62.4 277,64.1 C278.03,65.8 279.62,66.75 280.7,67.7 C281.78,68.65 282.62,69.63 283.5,69.8 C284.38,69.97 285.17,69.38 286,68.7 C286.83,68.02 287.48,66.85 288.5,65.7 C289.52,64.55 290.77,62.83 292.1,61.8 C293.43,60.77 295.77,59.88 296.5,59.5" stroke-width="1.2"/>
<path d="M296.5,59.5 C297.42,59.48 300.03,59.35 302,59.4 C303.97,59.45 306.13,59.6 308.3,59.8 C310.47,60 312.55,60.23 315,60.6 C317.45,60.97 320.5,61.67 323,62 C325.5,62.33 328.83,62.5 330,62.6" stroke-width="1.2"/>
<path d="M296.5,59.5 C297.42,59.56 300.03,59.72 302,59.88 C303.97,60.04 306.13,60.21 308.3,60.44 C310.47,60.67 312.55,60.91 315,61.24 C317.45,61.57 320.5,62.17 323,62.4 C325.5,62.63 328.83,62.57 330,62.6" stroke-width="1.2"/>
<path d="M296.5,59.5 C297.42,59.63 300.03,60.05 302,60.3 C303.97,60.55 306.13,60.75 308.3,61 C310.47,61.25 312.55,61.51 315,61.8 C317.45,62.09 320.5,62.62 323,62.75 C325.5,62.88 328.83,62.62 330,62.6" stroke-width="1.2"/>
<path d="M330,62.6 C330.77,62.27 333.07,60.15 334.6,60.6 C336.13,61.05 337.28,62.6 339.2,65.3 C341.12,68 344.17,73.53 346.1,76.8 C348.03,80.07 349.53,82.58 350.8,84.9 C352.07,87.22 352.73,88.18 353.7,90.7 C354.67,93.22 355.73,97.12 356.6,100 C357.47,102.88 358.13,105.98 358.9,108 C359.67,110.02 360.33,111.13 361.2,112.1 C362.07,113.07 362.75,113.7 364.1,113.8 C365.45,113.9 367.67,113.37 369.3,112.7 C370.93,112.03 372.55,110.87 373.9,109.8 C375.25,108.73 376.05,107.93 377.4,106.3 C378.75,104.67 380.13,102.78 382,100 C383.87,97.22 386.53,92.3 388.6,89.6 C390.67,86.9 392.85,84.57 394.4,83.8 C395.95,83.03 396.55,83.27 397.9,85 C399.25,86.73 400.95,91.12 402.5,94.2 C404.05,97.28 405.65,101.37 407.2,103.5 C408.75,105.63 410.5,106.75 411.8,107 C413.1,107.25 413.83,105.97 415,105 C416.17,104.03 417.2,103.18 418.8,101.2 C420.4,99.22 422.68,96.18 424.6,93.1 C426.52,90.02 428.38,85.98 430.3,82.7 C432.22,79.42 433.97,76.6 436.1,73.4 C438.23,70.2 441.93,65.15 443.1,63.5" stroke-width="1.2"/>
<path d="M330,62.6 C330.77,62.45 333.07,61.07 334.6,61.7 C336.13,62.33 337.28,63.7 339.2,66.4 C341.12,69.1 344.17,74.63 346.1,77.9 C348.03,81.17 349.53,83.68 350.8,86 C352.07,88.32 352.73,89.28 353.7,91.8 C354.67,94.32 355.73,98.22 356.6,101.1 C357.47,103.98 358.13,107.08 358.9,109.1 C359.67,111.12 360.33,112.23 361.2,113.2 C362.07,114.17 362.75,114.8 364.1,114.9 C365.45,115 367.67,114.47 369.3,113.8 C370.93,113.13 372.55,111.97 373.9,110.9 C375.25,109.83 376.05,109.03 377.4,107.4 C378.75,105.77 380.13,103.88 382,101.1 C383.87,98.32 386.53,93.4 388.6,90.7 C390.67,88 392.85,85.67 394.4,84.9 C395.95,84.13 396.55,84.37 397.9,86.1 C399.25,87.83 400.95,92.22 402.5,95.3 C404.05,98.38 405.65,102.47 407.2,104.6 C408.75,106.73 410.5,107.85 411.8,108.1 C413.1,108.35 413.83,107.07 415,106.1 C416.17,105.13 417.2,104.28 418.8,102.3 C420.4,100.32 422.68,97.28 424.6,94.2 C426.52,91.12 428.38,87.08 430.3,83.8 C432.22,80.52 433.97,77.88 436.1,74.5 C438.23,71.12 441.93,65.33 443.1,63.5" stroke-width="1.2"/>
<path d="M330,62.6 C330.77,64.2 332.87,68.67 334.6,72.2 C336.33,75.73 338.67,80.13 340.4,83.8 C342.13,87.47 343.57,91.6 345,94.2 C346.43,96.8 347.65,99.2 349,99.4 C350.35,99.6 351.83,97.82 353.1,95.4 C354.37,92.98 355.45,89.15 356.6,84.9 C357.75,80.65 358.93,74.23 360,69.9 C361.07,65.57 361.45,60.83 363,58.9 C364.55,56.97 367.13,58.28 369.3,58.3 C371.47,58.32 373.55,58.75 376,59 C378.45,59.25 381.5,59.43 384,59.8 C386.5,60.17 388.92,60.87 391,61.2 C393.08,61.53 394.97,62.28 396.5,61.8 C398.03,61.32 399.03,59.43 400.2,58.3 C401.37,57.17 402.33,55.47 403.5,55 C404.67,54.53 405.82,54.37 407.2,55.5 C408.58,56.63 410.27,59.88 411.8,61.8 C413.33,63.72 414.67,65.85 416.4,67 C418.13,68.15 420.27,68.98 422.2,68.7 C424.13,68.42 425.87,66.55 428,65.3 C430.13,64.05 432.87,61.98 435,61.2 C437.13,60.42 439.45,60.3 440.8,60.6 C442.15,60.9 442.72,62.6 443.1,63" stroke-width="1.2"/>
<path d="M330,62.6 C330.77,64.37 332.87,69.5 334.6,73.2 C336.33,76.9 338.67,81.13 340.4,84.8 C342.13,88.47 343.57,92.6 345,95.2 C346.43,97.8 347.65,100.2 349,100.4 C350.35,100.6 351.83,98.82 353.1,96.4 C354.37,93.98 355.45,90.15 356.6,85.9 C357.75,81.65 358.93,75.23 360,70.9 C361.07,66.57 361.45,61.83 363,59.9 C364.55,57.97 367.13,59.28 369.3,59.3 C371.47,59.32 373.55,59.75 376,60 C378.45,60.25 381.5,60.43 384,60.8 C386.5,61.17 388.92,61.87 391,62.2 C393.08,62.53 394.97,63.28 396.5,62.8 C398.03,62.32 399.03,60.43 400.2,59.3 C401.37,58.17 402.33,56.47 403.5,56 C404.67,55.53 405.82,55.37 407.2,56.5 C408.58,57.63 410.27,60.88 411.8,62.8 C413.33,64.72 414.67,66.85 416.4,68 C418.13,69.15 420.27,69.98 422.2,69.7 C424.13,69.42 425.87,67.55 428,66.3 C430.13,65.05 432.87,62.98 435,62.2 C437.13,61.42 439.45,61.47 440.8,61.6 C442.15,61.73 442.72,62.77 443.1,63" stroke-width="1.2"/>
<path d="M263.7,84.9 C264.18,86.45 265.63,90.68 266.6,94.2 C267.57,97.72 268.68,102.87 269.5,106 C270.32,109.13 270.72,111.3 271.5,113 C272.28,114.7 273.2,116.2 274.2,116.2 C275.2,116.2 276.45,114.7 277.5,113 C278.55,111.3 279.23,110.5 280.5,106 C281.77,101.5 283.37,92.4 285.1,86 C286.83,79.6 289,72.02 290.9,67.6 C292.8,63.18 295.57,60.85 296.5,59.5" stroke-width="1.2"/>
<path d="M263.7,87.5 C264.18,89.17 265.63,93.92 266.6,97.5 C267.57,101.08 268.63,105.83 269.5,109 C270.37,112.17 270.93,114.63 271.8,116.5 C272.67,118.37 273.67,120.12 274.7,120.2 C275.73,120.28 276.95,118.87 278,117 C279.05,115.13 279.73,113.83 281,109 C282.27,104.17 283.9,94.67 285.6,88 C287.3,81.33 289.38,73.7 291.2,69 C293.02,64.3 295.62,61.33 296.5,59.8" stroke-width="1.2"/>
<path d="M263.7,106.3 C264.17,107.08 265.43,108.88 266.5,111 C267.57,113.12 269.22,116.78 270.1,119 C270.98,121.22 271.32,122.47 271.8,124.3 C272.28,126.13 272.63,127.55 273,130 C273.37,132.45 273.58,136 274,139 C274.42,142 275.08,145.67 275.5,148 C275.92,150.33 275.9,150.9 276.5,153 C277.1,155.1 277.72,157.2 279.1,160.6 C280.48,164 282.9,169.6 284.8,173.4 C286.7,177.2 288.83,180.78 290.5,183.4 C292.17,186.02 293.8,188.28 294.8,189.1 C295.8,189.92 296.22,188.43 296.5,188.3" stroke-width="1.2"/>
<path d="M263.7,106.3 C264.17,107.27 265.43,109.8 266.5,112.1 C267.57,114.4 269.22,117.88 270.1,120.1 C270.98,122.32 271.32,123.57 271.8,125.4 C272.28,127.23 272.63,128.65 273,131.1 C273.37,133.55 273.58,137.1 274,140.1 C274.42,143.1 275.08,146.77 275.5,149.1 C275.92,151.43 275.9,152 276.5,154.1 C277.1,156.2 277.72,158.3 279.1,161.7 C280.48,165.1 282.9,170.7 284.8,174.5 C286.7,178.3 288.83,181.88 290.5,184.5 C292.17,187.12 293.8,189.57 294.8,190.2 C295.8,190.83 296.22,188.62 296.5,188.3" stroke-width="1.2"/>
<path d="M271.8,124.3 C272.28,124.38 273.63,124.33 274.7,124.8 C275.77,125.27 277.03,125.73 278.2,127.1 C279.37,128.47 280.65,130.68 281.7,133 C282.75,135.32 283.75,138.17 284.5,141 C285.25,143.83 285.62,147.17 286.2,150 C286.78,152.83 287.28,155.28 288,158 C288.72,160.72 289.48,162.55 290.5,166.3 C291.52,170.05 293.13,176.83 294.1,180.5 C295.07,184.17 295.93,187 296.3,188.3" stroke-width="1.2"/>
<path d="M271.8,124.3 C272.28,124.57 273.63,125.25 274.7,125.9 C275.77,126.55 277.03,126.83 278.2,128.2 C279.37,129.57 280.65,131.78 281.7,134.1 C282.75,136.42 283.75,139.27 284.5,142.1 C285.25,144.93 285.62,148.27 286.2,151.1 C286.78,153.93 287.28,156.38 288,159.1 C288.72,161.82 289.48,163.65 290.5,167.4 C291.52,171.15 293.13,178.12 294.1,181.6 C295.07,185.08 295.93,187.18 296.3,188.3" stroke-width="1.2"/>
<path d="M263.7,131.8 C264.38,131.6 266.63,130.98 267.8,130.6 C268.97,130.22 269.73,128.92 270.7,129.5 C271.67,130.08 272.72,132.02 273.6,134.1 C274.48,136.18 275.35,139.35 276,142 C276.65,144.65 276.92,147.33 277.5,150 C278.08,152.67 278.28,154.27 279.5,158 C280.72,161.73 282.97,168.33 284.8,172.4 C286.63,176.47 288.55,179.75 290.5,182.4 C292.45,185.05 295.5,187.32 296.5,188.3" stroke-width="1.2"/>
<path d="M263.7,135.3 C264.57,135.38 267.25,135.23 268.9,135.8 C270.55,136.37 271.85,137.43 273.6,138.7 C275.35,139.97 277.67,141.47 279.4,143.4 C281.13,145.33 282.77,148.2 284,150.3 C285.23,152.4 285.72,153.17 286.8,156 C287.88,158.83 289.28,163.05 290.5,167.3 C291.72,171.55 293.13,178 294.1,181.5 C295.07,185 295.93,187.17 296.3,188.3" stroke-width="1.2"/>
<path d="M263.7,145.7 C264.18,146.47 265.73,148.58 266.6,150.3 C267.47,152.02 268,153.82 268.9,156 C269.8,158.18 270.77,160.27 272,163.4 C273.23,166.53 274.88,170.77 276.3,174.8 C277.72,178.83 279.08,183.57 280.5,187.6 C281.92,191.63 283.37,196.62 284.8,199 C286.23,201.38 287.67,201.53 289.1,201.9 C290.53,202.27 292.17,201.43 293.4,201.2 C294.63,200.97 295.98,200.62 296.5,200.5" stroke-width="1.2"/>
<path d="M263.7,162 C264.25,162.25 265.62,162.08 267,163.5 C268.38,164.92 270.45,166.95 272,170.5 C273.55,174.05 275.12,180.28 276.3,184.8 C277.48,189.32 277.92,194.03 279.1,197.6 C280.28,201.17 281.97,204.3 283.4,206.2 C284.83,208.1 286.28,208.53 287.7,209 C289.12,209.47 290.43,209.83 291.9,209 C293.37,208.17 295.73,204.83 296.5,204" stroke-width="1.2"/>
<path d="M263.7,172.7 C264.42,172.83 266.38,172.43 268,173.5 C269.62,174.57 272.02,176.5 273.4,179.1 C274.78,181.7 275.35,185.78 276.3,189.1 C277.25,192.42 277.92,195.45 279.1,199 C280.28,202.55 282.42,207.97 283.4,210.4 C284.38,212.83 284.73,213.07 285,213.6" stroke-width="1.2"/>
<path d="M263.7,184.8 C264.37,184.58 266.57,183.47 267.7,183.5 C268.83,183.53 269.55,183.6 270.5,185 C271.45,186.4 272.43,188.85 273.4,191.9 C274.37,194.95 275.58,199.68 276.3,203.3 C277.02,206.92 277.47,211.88 277.7,213.6" stroke-width="1.2"/>
<path d="M263.7,190.5 C264.37,190.38 266.32,189.3 267.7,189.8 C269.08,190.3 270.82,191.72 272,193.5 C273.18,195.28 274.08,198.08 274.8,200.5 C275.52,202.92 275.82,205.82 276.3,208 C276.78,210.18 277.47,212.67 277.7,213.6" stroke-width="1.2"/>
<path d="M263.7,203.3 C264.6,203.3 267.48,202.82 269.1,203.3 C270.72,203.78 271.97,205.02 273.4,206.2 C274.83,207.38 276.52,209.17 277.7,210.4 C278.88,211.63 280.03,213.07 280.5,213.6" stroke-width="1.2"/>
<path d="M296.5,188.3 C297.4,187.95 300.05,187.02 301.9,186.2 C303.75,185.38 305.7,185.07 307.6,183.4 C309.5,181.73 311.4,178.82 313.3,176.2 C315.2,173.58 317.38,169.83 319,167.7 C320.62,165.57 321.22,164.47 323,163.4 C324.78,162.33 328.58,161.65 329.7,161.3" stroke-width="1.2"/>
<path d="M296.5,188.3 C297.4,188.15 300.05,188.02 301.9,187.4 C303.75,186.78 305.7,186.27 307.6,184.6 C309.5,182.93 311.4,180.02 313.3,177.4 C315.2,174.78 317.38,171.03 319,168.9 C320.62,166.77 321.22,165.87 323,164.6 C324.78,163.33 328.58,161.85 329.7,161.3" stroke-width="1.2"/>
<path d="M296.5,200.5 C297.4,200.25 300.52,199.6 301.9,199 C303.28,198.4 303.45,196.98 304.8,196.9 C306.15,196.82 308.1,197.9 310,198.5 C311.9,199.1 314.03,199.82 316.2,200.5 C318.37,201.18 320.7,201.97 323,202.6 C325.3,203.23 328.83,204.02 330,204.3" stroke-width="1.2"/>
<path d="M296.5,204 C297.08,204.25 298.62,205.02 300,205.5 C301.38,205.98 302.82,206.08 304.8,206.9 C306.78,207.72 309.77,209.33 311.9,210.4 C314.03,211.47 315.92,213.2 317.6,213.3 C319.28,213.4 320.6,212.05 322,211 C323.4,209.95 324.67,208.12 326,207 C327.33,205.88 329.33,204.75 330,204.3" stroke-width="1.2"/>
<path d="M329.7,161.3 C330.48,161.18 332.63,160.57 334.4,160.6 C336.17,160.63 338.72,161.72 340.3,161.5 C341.88,161.28 342.7,160.87 343.9,159.3 C345.1,157.73 346.32,154.18 347.5,152.1 C348.68,150.02 349.82,147.68 351,146.8 C352.18,145.92 353.25,146.22 354.6,146.8 C355.95,147.38 357.77,149.85 359.1,150.3 C360.43,150.75 361.27,150.13 362.6,149.5 C363.93,148.87 365.4,148.3 367.1,146.5 C368.8,144.7 370.88,141.53 372.8,138.7 C374.72,135.87 376.73,132.77 378.6,129.5 C380.47,126.23 382.33,122 384,119.1 C385.67,116.2 387.05,114.03 388.6,112.1 C390.15,110.17 392.03,108.47 393.3,107.5 C394.57,106.53 395.23,106.12 396.2,106.3 C397.17,106.48 398.05,106.87 399.1,108.6 C400.15,110.33 401.35,113.98 402.5,116.7 C403.65,119.42 405.03,122.87 406,124.9 C406.97,126.93 407.33,127.37 408.3,128.9 C409.27,130.43 410.63,132.07 411.8,134.1 C412.97,136.13 414.13,138.58 415.3,141.1 C416.47,143.62 417.65,146.72 418.8,149.2 C419.95,151.68 421.3,154.03 422.2,156 C423.1,157.97 423.4,158.5 424.2,161 C425,163.5 426.05,167.98 427,171 C427.95,174.02 428.47,179.42 429.9,179.1 C431.33,178.78 433.7,171.95 435.6,169.1 C437.5,166.25 439.98,163.3 441.3,162 C442.62,160.7 443.13,161.42 443.5,161.3" stroke-width="1.2"/>
<path d="M329.7,161.3 C330.48,162.25 332.92,165.42 334.4,167 C335.88,168.58 337.17,169.72 338.6,170.8 C340.03,171.88 341.37,173.42 343,173.5 C344.63,173.58 346.77,172.63 348.4,171.3 C350.03,169.97 351.47,167.5 352.8,165.5 C354.13,163.5 355.07,161.08 356.4,159.3 C357.73,157.52 359.68,155.68 360.8,154.8 C361.92,153.92 362.05,154.37 363.1,154 C364.15,153.63 365.55,153.5 367.1,152.6 C368.65,151.7 371.07,149.95 372.4,148.6 C373.73,147.25 373.68,146.53 375.1,144.5 C376.52,142.47 379.42,138.42 380.9,136.4 C382.38,134.38 382.52,133.17 384,132.4 C385.48,131.63 387.72,131.9 389.8,131.8 C391.88,131.7 394.18,131.9 396.5,131.8 C398.82,131.7 401.92,131.2 403.7,131.2 C405.48,131.2 406.03,130.53 407.2,131.8 C408.37,133.07 409.73,136.48 410.7,138.8 C411.67,141.12 412.05,142.83 413,145.7 C413.95,148.57 415.23,153.28 416.4,156 C417.57,158.72 418.57,160.83 420,162 C421.43,163.17 423.33,162.88 425,163 C426.67,163.12 428.17,162.87 430,162.7 C431.83,162.53 433.75,162.23 436,162 C438.25,161.77 442.25,161.42 443.5,161.3" stroke-width="1.2"/>
<path d="M329.7,161.3 C330.48,162.43 332.92,166.33 334.4,168.1 C335.88,169.87 337.17,170.82 338.6,171.9 C340.03,172.98 341.37,174.52 343,174.6 C344.63,174.68 346.77,173.73 348.4,172.4 C350.03,171.07 351.47,168.6 352.8,166.6 C354.13,164.6 355.07,162.18 356.4,160.4 C357.73,158.62 359.68,156.78 360.8,155.9 C361.92,155.02 362.05,155.47 363.1,155.1 C364.15,154.73 365.55,154.6 367.1,153.7 C368.65,152.8 371.07,151.05 372.4,149.7 C373.73,148.35 373.68,147.63 375.1,145.6 C376.52,143.57 379.42,139.52 380.9,137.5 C382.38,135.48 382.52,134.27 384,133.5 C385.48,132.73 387.72,133 389.8,132.9 C391.88,132.8 394.18,133 396.5,132.9 C398.82,132.8 401.92,132.3 403.7,132.3 C405.48,132.3 406.03,131.63 407.2,132.9 C408.37,134.17 409.73,137.58 410.7,139.9 C411.67,142.22 412.05,143.93 413,146.8 C413.95,149.67 415.23,154.38 416.4,157.1 C417.57,159.82 418.57,161.93 420,163.1 C421.43,164.27 423.33,163.98 425,164.1 C426.67,164.22 428.17,163.97 430,163.8 C431.83,163.63 433.75,163.52 436,163.1 C438.25,162.68 442.25,161.6 443.5,161.3" stroke-width="1.2"/>
<path d="M384,137.6 C385.17,137.22 388.92,135.72 391,135.3 C393.08,134.88 394.77,135 396.5,135.1 C398.23,135.2 399.62,135.1 401.4,135.9 C403.18,136.7 405.47,138.07 407.2,139.9 C408.93,141.73 410.45,144.22 411.8,146.9 C413.15,149.58 414.1,152.98 415.3,156 C416.5,159.02 417.55,162.33 419,165 C420.45,167.67 422.42,169.83 424,172 C425.58,174.17 427.33,176.67 428.5,178 C429.67,179.33 430.58,179.67 431,180" stroke-width="1.2"/>
<path d="M408.3,128.9 C409.08,129.58 411.45,130.97 413,133 C414.55,135.03 416.07,137.82 417.6,141.1 C419.13,144.38 420.8,148.72 422.2,152.7 C423.6,156.68 424.78,160.95 426,165 C427.22,169.05 428.92,175 429.5,177" stroke-width="1.2"/>
<path d="M330.2,204.3 C331.05,203.87 333.93,202.98 335.3,201.7 C336.67,200.42 337.38,198.47 338.4,196.6 C339.42,194.73 340.18,192.43 341.4,190.5 C342.62,188.57 344.25,186.8 345.7,185 C347.15,183.2 348.62,181.32 350.1,179.7 C351.58,178.08 353.4,176.93 354.6,175.3 C355.8,173.67 356.42,171.98 357.3,169.9 C358.18,167.82 359.17,164.2 359.9,162.8 C360.63,161.4 360.95,161.8 361.7,161.5 C362.45,161.2 363.2,161.37 364.4,161 C365.6,160.63 367.13,160.22 368.9,159.3 C370.67,158.38 373.15,156.72 375,155.5 C376.85,154.28 378.5,153.07 380,152 C381.5,150.93 382.37,150.05 384,149.1 C385.63,148.15 387.72,146.97 389.8,146.3 C391.88,145.63 394.57,144.82 396.5,145.1 C398.43,145.38 400.12,146.85 401.4,148 C402.68,149.15 403.02,149.67 404.2,152 C405.38,154.33 407.07,158.92 408.5,162 C409.93,165.08 411.13,167.65 412.8,170.5 C414.47,173.35 416.6,176.72 418.5,179.1 C420.4,181.48 422.53,183.38 424.2,184.8 C425.87,186.22 427.32,186.17 428.5,187.6 C429.68,189.03 430.12,191.02 431.3,193.4 C432.48,195.78 433.93,200 435.6,201.9 C437.27,203.8 439.98,204.45 441.3,204.8 C442.62,205.15 443.13,204.13 443.5,204" stroke-width="1.2"/>
<path d="M330.2,204.3 C331.05,204.03 333.93,203.82 335.3,202.7 C336.67,201.58 337.38,199.47 338.4,197.6 C339.42,195.73 340.18,193.43 341.4,191.5 C342.62,189.57 344.25,187.8 345.7,186 C347.15,184.2 348.62,182.32 350.1,180.7 C351.58,179.08 353.4,177.93 354.6,176.3 C355.8,174.67 356.42,172.98 357.3,170.9 C358.18,168.82 359.17,165.2 359.9,163.8 C360.63,162.4 360.95,162.8 361.7,162.5 C362.45,162.2 363.2,162.37 364.4,162 C365.6,161.63 367.13,161.22 368.9,160.3 C370.67,159.38 373.15,157.72 375,156.5 C376.85,155.28 378.5,154.07 380,153 C381.5,151.93 382.37,151.05 384,150.1 C385.63,149.15 387.72,147.97 389.8,147.3 C391.88,146.63 394.57,145.82 396.5,146.1 C398.43,146.38 400.12,147.85 401.4,149 C402.68,150.15 403.02,150.67 404.2,153 C405.38,155.33 407.07,159.92 408.5,163 C409.93,166.08 411.13,168.65 412.8,171.5 C414.47,174.35 416.6,177.72 418.5,180.1 C420.4,182.48 422.53,184.38 424.2,185.8 C425.87,187.22 427.32,187.17 428.5,188.6 C429.68,190.03 430.12,192.02 431.3,194.4 C432.48,196.78 433.93,201 435.6,202.9 C437.27,204.8 439.98,205.62 441.3,205.8 C442.62,205.98 443.13,204.3 443.5,204" stroke-width="1.2"/>
<path d="M339.9,213.6 C340.5,212.47 342.22,209.12 343.5,206.8 C344.78,204.48 346.58,201.92 347.6,199.7 C348.62,197.48 348.75,194.87 349.6,193.5 C350.45,192.13 351.5,192.85 352.7,191.5 C353.9,190.15 355.43,186.77 356.8,185.4 C358.17,184.03 359.37,184.17 360.9,183.3 C362.43,182.43 364.48,181.13 366,180.2 C367.52,179.27 367.9,179.55 370,177.7 C372.1,175.85 375.75,171.25 378.6,169.1 C381.45,166.95 384.13,165.75 387.1,164.8 C390.07,163.85 394.02,163.4 396.4,163.4 C398.78,163.4 399.62,163.37 401.4,164.8 C403.18,166.23 405.2,169.13 407.1,172 C409,174.87 410.9,178.92 412.8,182 C414.7,185.08 416.6,187.67 418.5,190.5 C420.4,193.33 422.3,196.38 424.2,199 C426.1,201.62 428,204.53 429.9,206.2 C431.8,207.87 433.47,209.23 435.6,209 C437.73,208.77 441.52,205.5 442.7,204.8" stroke-width="1.2"/>
<path d="M341.4,213.6 C342.08,212.82 344.13,210.7 345.5,208.9 C346.87,207.1 348.23,204.85 349.6,202.8 C350.97,200.75 352.17,198.32 353.7,196.6 C355.23,194.88 357.1,193.7 358.8,192.5 C360.5,191.3 362.03,190.45 363.9,189.4 C365.77,188.35 367.55,187.68 370,186.2 C372.45,184.72 375.75,181.45 378.6,180.5 C381.45,179.55 384.13,180.13 387.1,180.5 C390.07,180.87 394.02,182.45 396.4,182.7 C398.78,182.95 399.62,181.42 401.4,182 C403.18,182.58 405.43,184.07 407.1,186.2 C408.77,188.33 409.73,191.47 411.4,194.8 C413.07,198.13 415.2,203.58 417.1,206.2 C419,208.82 420.98,209.27 422.8,210.5 C424.62,211.73 427.13,213.08 428,213.6" stroke-width="1.2"/>
<path d="M355,213.6 C355.83,212.17 358.33,207.93 360,205 C361.67,202.07 363.33,198.53 365,196 C366.67,193.47 367.73,191.32 370,189.8 C372.27,188.28 375.75,187.62 378.6,186.9 C381.45,186.18 384.13,185.38 387.1,185.5 C390.07,185.62 393.92,186.85 396.4,187.6 C398.88,188.35 400.23,188.27 402,190 C403.77,191.73 405.2,194.83 407,198 C408.8,201.17 411.47,206.4 412.8,209 C414.13,211.6 414.63,212.83 415,213.6" stroke-width="1.2"/>
<path d="M349.5,213.6 C350.08,212.5 351.75,209.35 353,207 C354.25,204.65 355.58,202 357,199.5 C358.42,197 360.08,194.25 361.5,192 C362.92,189.75 364.08,187.67 365.5,186 C366.92,184.33 367.82,183.63 370,182 C372.18,180.37 375.75,177.4 378.6,176.2 C381.45,175 384.13,175.15 387.1,174.8 C390.07,174.45 393.78,174.1 396.4,174.1 C399.02,174.1 400.78,173.73 402.8,174.8 C404.82,175.87 406.6,178.12 408.5,180.5 C410.4,182.88 412.3,186.25 414.2,189.1 C416.1,191.95 418.23,195.2 419.9,197.6 C421.57,200 422.68,201.68 424.2,203.5 C425.72,205.32 427.1,207.5 429,208.5 C430.9,209.5 433.32,210.12 435.6,209.5 C437.88,208.88 441.52,205.58 442.7,204.8" stroke-width="1.2"/>
<path d="M323,209.4 C324.2,208.55 328.5,204.55 330.2,204.3 C331.9,204.05 332.18,206.8 333.2,207.9 C334.22,209 335.43,209.95 336.3,210.9 C337.17,211.85 338.05,213.15 338.4,213.6" stroke-width="1.2"/>
<path d="M351.7,213.6 C352.2,213.08 353.68,210.5 354.7,210.5 C355.72,210.5 357.28,213.08 357.8,213.6" stroke-width="1.2"/>
<path d="M384.3,213.6 C385.48,212.6 389.38,209.2 391.4,207.6 C393.42,206 394.5,204.23 396.4,204 C398.3,203.77 400.55,204.6 402.8,206.2 C405.05,207.8 408.72,212.37 409.9,213.6" stroke-width="1.2"/>
<path d="M384.3,213.6 C385.48,212.77 389.38,210.03 391.4,208.6 C393.42,207.17 394.5,205.23 396.4,205 C398.3,204.77 400.55,205.77 402.8,207.2 C405.05,208.63 408.72,212.53 409.9,213.6" stroke-width="1.2"/>
</g>
<g stroke="#e41c1c" stroke-width="2.2" stroke-linecap="butt"><line x1="389.5" y1="139.8" x2="395" y2="143.7"/><line x1="381.5" y1="129.2" x2="378.3" y2="123"/><line x1="376.1" y1="111.1" x2="374.8" y2="104.1"/><line x1="376.3" y1="93.5" x2="378" y2="87"/><line x1="381.5" y1="77" x2="386.8" y2="69.8"/></g><path d="M392.5,63.6 L390.45,72.09 L384.87,67.85 Z" fill="#e41c1c"/>
<g stroke="#1c1ce0" stroke-width="2.2" stroke-linecap="butt"><line x1="399.6" y1="171.5" x2="404" y2="166"/><line x1="410.2" y1="156" x2="414.4" y2="149.8"/><line x1="419.8" y1="140.2" x2="421.7" y2="133.7"/><line x1="425.2" y1="121.8" x2="424.8" y2="114.5"/><line x1="424.7" y1="103.2" x2="423.2" y2="96"/><line x1="418" y1="86.5" x2="414" y2="80.5"/><line x1="409.4" y1="72.1" x2="405.3" y2="67.8"/></g><path d="M400.9,63.2 L408.97,66.53 L403.93,71.39 Z" fill="#1c1ce0"/>
<text x="391.6" y="59.2" font-family="Liberation Sans, sans-serif" font-size="12.5" fill="#1c1ce0">A<tspan font-size="9.0" dy="-4.5">″</tspan></text>
<text x="398.4" y="154" font-family="Liberation Sans, sans-serif" font-size="12.5" fill="#1c1ce0">A<tspan font-size="9.0" dy="-4.5">″</tspan></text>
<text x="388.4" y="175.7" font-family="Liberation Sans, sans-serif" font-size="12.5" fill="#e41c1c">A<tspan font-size="9.0" dy="-4.5">′</tspan></text>
<line x1="263.3" y1="10.5" x2="263.3" y2="213.6" stroke="#808080" stroke-width="1.3"/>
<line x1="443.7" y1="10.5" x2="443.7" y2="213.6" stroke="#b8b8b8" stroke-width="1.3"/>
<line x1="262.7" y1="10.5" x2="444.3" y2="10.5" stroke="#4a4a4a" stroke-width="1.8"/>
<line x1="262.7" y1="213.6" x2="444.3" y2="213.6" stroke="#404040" stroke-width="1.3"/>
<g stroke="#555" stroke-width="1">
<line x1="260" y1="10.5" x2="263.3" y2="10.5"/>
<line x1="261.3" y1="23.19" x2="263.3" y2="23.19"/>
<line x1="260" y1="35.89" x2="263.3" y2="35.89"/>
<line x1="261.3" y1="48.58" x2="263.3" y2="48.58"/>
<line x1="260" y1="61.27" x2="263.3" y2="61.27"/>
<line x1="261.3" y1="73.97" x2="263.3" y2="73.97"/>
<line x1="260" y1="86.66" x2="263.3" y2="86.66"/>
<line x1="261.3" y1="99.36" x2="263.3" y2="99.36"/>
<line x1="260" y1="112.05" x2="263.3" y2="112.05"/>
<line x1="261.3" y1="124.74" x2="263.3" y2="124.74"/>
<line x1="260" y1="137.44" x2="263.3" y2="137.44"/>
<line x1="261.3" y1="150.13" x2="263.3" y2="150.13"/>
<line x1="260" y1="162.82" x2="263.3" y2="162.82"/>
<line x1="261.3" y1="175.52" x2="263.3" y2="175.52"/>
<line x1="260" y1="188.21" x2="263.3" y2="188.21"/>
<line x1="261.3" y1="200.91" x2="263.3" y2="200.91"/>
<line x1="260" y1="213.6" x2="263.3" y2="213.6"/>
</g>
<g font-family="Liberation Sans, sans-serif" font-size="9" fill="#222" text-anchor="end">
<text x="258.1" y="13.7">2.0</text>
<text x="258.1" y="39.09">1.5</text>
<text x="258.1" y="64.47">1.0</text>
<text x="258.1" y="89.86">0.5</text>
<text x="258.1" y="115.25">0.0</text>
<text x="258.1" y="140.64">-0.5</text>
<text x="258.1" y="166.02">-1.0</text>
<text x="258.1" y="191.41">-1.5</text>
<text x="258.1" y="216.8">-2.0</text>
</g>
<g font-family="Liberation Sans, sans-serif" font-size="9.6" fill="#222" text-anchor="middle">
<text x="263.3" y="227.4">Γ</text>
<text x="297.2" y="227.4">Y</text>
<text x="331.1" y="227.4">S</text>
<text x="363.5" y="227.4">X</text>
<text x="397.6" y="227.4">Γ</text>
<text x="443.8" y="227.4">S</text>
</g>
<text transform="translate(241.1,112.1) rotate(-90)" font-family="Liberation Sans, sans-serif" font-size="10.4" fill="#222" text-anchor="middle">E-E<tspan font-size="7" dy="2.5">F</tspan><tspan dy="-2.5"> (eV)</tspan></text>
<text x="228.6" y="14.9" font-family="Liberation Sans, sans-serif" font-size="18" font-weight="bold" fill="#000">b</text>
<g stroke="#8a8a8a" stroke-width="1" stroke-dasharray="3,2.63" fill="none">
<line x1="490" y1="112.15" x2="664.7" y2="112.15"/>
<line x1="517.6" y1="12.6" x2="517.6" y2="213.9"/>
<line x1="551.7" y1="12.6" x2="551.7" y2="213.9"/>
<line x1="584.4" y1="12.6" x2="584.4" y2="213.9"/>
<line x1="617.3" y1="12.6" x2="617.3" y2="213.9"/>
</g>
<g stroke="#2a2a2a" stroke-width="1" fill="none" stroke-linejoin="round" stroke-linecap="round">
<path d="M484.7,13 C485.08,13.38 486.17,14.35 487,15.3 C487.83,16.25 488.7,17.68 489.7,18.7 C490.7,19.72 492.12,20.6 493,21.4 C493.88,22.2 494.07,22.25 495,23.5 C495.93,24.75 497.27,27.63 498.6,28.9 C499.93,30.17 501.67,30.35 503,31.1 C504.33,31.85 505.55,32.28 506.6,33.4 C507.65,34.52 508.42,36.4 509.3,37.8 C510.18,39.2 511.17,41.42 511.9,41.8 C512.63,42.18 512.95,39.57 513.7,40.1 C514.45,40.63 515.65,43.9 516.4,45 C517.15,46.1 517.32,46.57 518.2,46.7 C519.08,46.83 520.22,46.38 521.7,45.8 C523.18,45.22 525.32,44.53 527.1,43.2 C528.88,41.87 530.62,39.88 532.4,37.8 C534.18,35.72 536.37,32.5 537.8,30.7 C539.23,28.9 539.97,28.08 541,27 C542.03,25.92 542.73,25.05 544,24.2 C545.27,23.35 547.25,22.38 548.6,21.9 C549.95,21.42 550.93,21.12 552.1,21.3 C553.27,21.48 554.05,21.93 555.6,23 C557.15,24.07 559.87,26.35 561.4,27.7 C562.93,29.05 563.65,29.75 564.8,31.1 C565.95,32.45 567.33,34.83 568.3,35.8 C569.27,36.77 569.83,37.1 570.6,36.9 C571.37,36.7 571.93,36.33 572.9,34.6 C573.87,32.87 575.23,29 576.4,26.5 C577.57,24 578.93,20.85 579.9,19.6 C580.87,18.35 581.43,18.9 582.2,19 C582.97,19.1 583.15,20.1 584.5,20.2 C585.85,20.3 588.57,20.28 590.3,19.6 C592.03,18.92 593.55,17.57 594.9,16.1 C596.25,14.63 597.82,11.68 598.4,10.8"/>
<path d="M484.7,16.7 C485.08,16.92 486.17,17.28 487,18 C487.83,18.72 488.8,20 489.7,21 C490.6,22 491.52,23.08 492.4,24 C493.28,24.92 494.27,25.08 495,26.5 C495.73,27.92 496.2,30.62 496.8,32.5 C497.4,34.38 497.87,36.17 498.6,37.8 C499.33,39.43 500.17,41.25 501.2,42.3 C502.23,43.35 503.6,43.52 504.8,44.1 C506,44.68 507.37,45.8 508.4,45.8 C509.43,45.8 510.12,43.95 511,44.1 C511.88,44.25 512.65,45.88 513.7,46.7 C514.75,47.52 516.7,48.62 517.3,49"/>
<path d="M484.7,16.7 C485.08,17.1 486.17,18.2 487,19.1 C487.83,20 488.8,21.1 489.7,22.1 C490.6,23.1 491.52,24.18 492.4,25.1 C493.28,26.02 494.27,26.18 495,27.6 C495.73,29.02 496.2,31.72 496.8,33.6 C497.4,35.48 497.87,37.27 498.6,38.9 C499.33,40.53 500.17,42.35 501.2,43.4 C502.23,44.45 503.6,44.62 504.8,45.2 C506,45.78 507.37,46.9 508.4,46.9 C509.43,46.9 510.12,45.05 511,45.2 C511.88,45.35 512.65,47.17 513.7,47.8 C514.75,48.43 516.7,48.8 517.3,49"/>
<path d="M495,28 C495.42,29.17 496.62,32.83 497.5,35 C498.38,37.17 499.23,39.05 500.3,41 C501.37,42.95 502.7,45.75 503.9,46.7 C505.1,47.65 506.48,46.48 507.5,46.7 C508.52,46.92 509.12,47.1 510,48 C510.88,48.9 511.88,50.82 512.8,52.1 C513.72,53.38 514.6,54.97 515.5,55.7 C516.4,56.43 516.87,56.5 518.2,56.5 C519.53,56.5 521.43,56.88 523.5,55.7 C525.57,54.52 528.22,52.08 530.6,49.4 C532.98,46.72 536.07,42 537.8,39.6 C539.53,37.2 539.8,36.48 541,35 C542.2,33.52 543.73,31.63 545,30.7 C546.27,29.77 547.52,29.8 548.6,29.4 C549.68,29 550.33,28.2 551.5,28.3 C552.67,28.4 554.15,28.75 555.6,30 C557.05,31.25 558.67,33.87 560.2,35.8 C561.73,37.73 563.45,40.25 564.8,41.6 C566.15,42.95 567.13,43.52 568.3,43.9 C569.47,44.28 570.65,45.07 571.8,43.9 C572.95,42.73 574.05,39.8 575.2,36.9 C576.35,34 577.53,28.82 578.7,26.5 C579.87,24.18 581.23,23.77 582.2,23 C583.17,22.23 583.15,21.9 584.5,21.9 C585.85,21.9 588.37,22.03 590.3,23 C592.23,23.97 594.37,26.53 596.1,27.7 C597.83,28.87 599.22,29.9 600.7,30 C602.18,30.1 603.32,29.65 605,28.3 C606.68,26.95 608.87,23.7 610.8,21.9 C612.73,20.1 614.73,18.23 616.6,17.5 C618.47,16.77 620.33,17.15 622,17.5 C623.67,17.85 625.25,18.67 626.6,19.6 C627.95,20.53 629.13,21.75 630.1,23.1 C631.07,24.45 631.43,25.77 632.4,27.7 C633.37,29.63 634.55,32.87 635.9,34.7 C637.25,36.53 638.77,37.83 640.5,38.7 C642.23,39.57 644.18,40.38 646.3,39.9 C648.42,39.42 651.08,37.83 653.2,35.8 C655.32,33.77 657.45,30.12 659,27.7 C660.55,25.28 661.58,22.67 662.5,21.3 C663.42,19.93 664.17,19.8 664.5,19.5"/>
<path d="M484.7,32.4 C485.08,32.17 486.07,31.4 487,31 C487.93,30.6 489.07,30.27 490.3,30 C491.53,29.73 493.5,29.28 494.4,29.4 C495.3,29.52 495.27,29.6 495.7,30.7 C496.13,31.8 496.65,34.12 497,36 C497.35,37.88 497.47,40.33 497.8,42 C498.13,43.67 498.8,45.33 499,46"/>
<path d="M492.4,10.8 C492.73,11.33 493.73,12.68 494.4,14 C495.07,15.32 495.9,17.63 496.4,18.7 C496.9,19.77 496.97,20.4 497.4,20.4 C497.83,20.4 498.4,19.55 499,18.7 C499.6,17.85 500.33,16.2 501,15.3 C501.67,14.4 502.43,13.68 503,13.3 C503.57,12.92 503.9,12.88 504.4,13 C504.9,13.12 505.5,13.38 506,14 C506.5,14.62 506.9,15.25 507.4,16.7 C507.9,18.15 508.4,20.58 509,22.7 C509.6,24.82 510.42,27.52 511,29.4 C511.58,31.28 512.05,32.75 512.5,34 C512.95,35.25 513.2,37 513.7,36.9 C514.2,36.8 514.9,34.88 515.5,33.4 C516.1,31.92 516.27,29.05 517.3,28 C518.33,26.95 520.07,27.55 521.7,27.1 C523.33,26.65 525.32,26.18 527.1,25.3 C528.88,24.42 530.92,23.02 532.4,21.8 C533.88,20.58 534.73,19.3 536,18 C537.27,16.7 538.75,15.2 540,14 C541.25,12.8 542.92,11.33 543.5,10.8"/>
<path d="M492.4,10.8 C492.73,11.48 493.73,13.43 494.4,14.9 C495.07,16.37 495.9,18.53 496.4,19.6 C496.9,20.67 496.97,21.3 497.4,21.3 C497.83,21.3 498.4,20.45 499,19.6 C499.6,18.75 500.33,17.1 501,16.2 C501.67,15.3 502.43,14.58 503,14.2 C503.57,13.82 503.9,13.78 504.4,13.9 C504.9,14.02 505.5,14.28 506,14.9 C506.5,15.52 506.9,16.15 507.4,17.6 C507.9,19.05 508.4,21.48 509,23.6 C509.6,25.72 510.42,28.42 511,30.3 C511.58,32.18 512.05,33.65 512.5,34.9 C512.95,36.15 513.2,37.9 513.7,37.8 C514.2,37.7 514.9,35.78 515.5,34.3 C516.1,32.82 516.27,29.95 517.3,28.9 C518.33,27.85 520.07,28.45 521.7,28 C523.33,27.55 525.32,27.08 527.1,26.2 C528.88,25.32 530.92,23.92 532.4,22.7 C533.88,21.48 534.73,20.2 536,18.9 C537.27,17.6 538.75,16.25 540,14.9 C541.25,13.55 542.92,11.48 543.5,10.8"/>
<path d="M505,10.8 C505.23,11.12 505.95,11.95 506.4,12.7 C506.85,13.45 507.15,14.52 507.7,15.3 C508.25,16.08 508.82,16.72 509.7,17.4 C510.58,18.08 511.88,18.08 513,19.4 C514.12,20.72 515.68,23.87 516.4,25.3 C517.12,26.73 517.15,27.55 517.3,28"/>
<path d="M507.7,11 C508.03,11.22 509.03,12.3 509.7,12.3 C510.37,12.3 511.37,11.22 511.7,11"/>
<path d="M484.6,61.5 C484.98,60.33 486.13,56.52 486.9,54.5 C487.67,52.48 488.48,50.57 489.2,49.4 C489.92,48.23 490.55,47.57 491.2,47.5 C491.85,47.43 492.52,48.55 493.1,49 C493.68,49.45 494.05,50.38 494.7,50.2 C495.35,50.02 496.1,48.82 497,47.9 C497.9,46.98 499.18,45.18 500.1,44.7 C501.02,44.22 502.1,44.95 502.5,45"/>
<path d="M484.7,74.5 C485.18,73.35 486.72,69.48 487.6,67.6 C488.48,65.72 488.88,64.58 490,63.2 C491.12,61.82 492.87,59.88 494.3,59.3 C495.73,58.72 497.23,59.25 498.6,59.7 C499.97,60.15 501.33,61.15 502.5,62 C503.67,62.85 504.57,64.07 505.6,64.8 C506.63,65.53 507.67,66.1 508.7,66.4 C509.73,66.7 510.88,66.9 511.8,66.6 C512.72,66.3 513.25,65.6 514.2,64.6 C515.15,63.6 515.48,61.18 517.5,60.6 C519.52,60.02 523.1,60.77 526.3,61.1 C529.5,61.43 533.25,62 536.7,62.6 C540.15,63.2 544.5,64.27 547,64.7 C549.5,65.13 550.27,65.5 551.7,65.2 C553.13,64.9 553.98,62.7 555.6,62.9 C557.22,63.1 559.48,64.47 561.4,66.4 C563.32,68.33 565.18,71.8 567.1,74.5 C569.02,77.2 571.35,80.38 572.9,82.6 C574.45,84.82 575.43,87.42 576.4,87.8 C577.37,88.18 577.93,86.73 578.7,84.9 C579.47,83.07 580.13,79.02 581,76.8 C581.87,74.58 582.35,72.65 583.9,71.6 C585.45,70.55 588.08,70.98 590.3,70.5 C592.52,70.02 594.75,69.28 597.2,68.7 C599.65,68.12 602.55,67.48 605,67 C607.45,66.52 609.78,66 611.9,65.8 C614.02,65.6 615.57,65.8 617.7,65.8 C619.83,65.8 622.38,65.6 624.7,65.8 C627.02,66 629.28,66.42 631.6,67 C633.92,67.58 636.67,68.82 638.6,69.3 C640.53,69.78 641.67,70.18 643.2,69.9 C644.73,69.62 646.07,68.67 647.8,67.6 C649.53,66.53 651.67,64.37 653.6,63.5 C655.53,62.63 657.67,62.1 659.4,62.4 C661.13,62.7 663.23,64.82 664,65.3"/>
<path d="M583.9,71.6 C584.97,71.67 588.08,72.1 590.3,72 C592.52,71.9 594.75,71.42 597.2,71 C599.65,70.58 602.55,70 605,69.5 C607.45,69 609.78,68.17 611.9,68 C614.02,67.83 615.57,68.5 617.7,68.5 C619.83,68.5 622.38,68.17 624.7,68 C627.02,67.83 629.38,67.83 631.6,67.5 C633.82,67.17 636.07,66.42 638,66 C639.93,65.58 641.53,65.5 643.2,65 C644.87,64.5 646.27,63.67 648,63 C649.73,62.33 651.7,61.42 653.6,61 C655.5,60.58 657.67,60 659.4,60.5 C661.13,61 663.23,63.42 664,64"/>
<path d="M551.5,64.7 C552.18,64.65 553.95,63.85 555.6,64.4 C557.25,64.95 559.48,66.07 561.4,68 C563.32,69.93 565.18,73.25 567.1,76 C569.02,78.75 571.25,81.95 572.9,84.5 C574.55,87.05 575.98,90.72 577,91.3 C578.02,91.88 578.33,89.88 579,88 C579.67,86.12 580.18,82.73 581,80 C581.82,77.27 583.42,73 583.9,71.6"/>
<path d="M484.6,64.6 C484.98,63.82 486.13,61.47 486.9,59.9 C487.67,58.33 488.42,56.43 489.2,55.2 C489.98,53.97 490.95,53.02 491.6,52.5 C492.25,51.98 492.58,51.77 493.1,52.1 C493.62,52.43 494.18,53.33 494.7,54.5 C495.22,55.67 495.55,57.42 496.2,59.1 C496.85,60.78 497.72,62.8 498.6,64.6 C499.48,66.4 500.53,68.63 501.5,69.9 C502.47,71.17 503.43,72.1 504.4,72.2 C505.37,72.3 506.23,71.47 507.3,70.5 C508.37,69.53 509.63,67.85 510.8,66.4 C511.97,64.95 513.18,62.77 514.3,61.8 C515.42,60.83 516.97,60.8 517.5,60.6"/>
<path d="M517.5,66.3 C518.97,66.3 523.1,66.05 526.3,66.3 C529.5,66.55 533.25,67.37 536.7,67.8 C540.15,68.23 544.5,68.72 547,68.9 C549.5,69.08 550.27,67.97 551.7,68.9 C553.13,69.83 554.18,72.02 555.6,74.5 C557.02,76.98 558.85,80.72 560.2,83.8 C561.55,86.88 562.55,90.68 563.7,93 C564.85,95.32 565.75,96.53 567.1,97.7 C568.45,98.87 570.45,100 571.8,100 C573.15,100 574.23,97.7 575.2,97.7 C576.17,97.7 576.88,98.95 577.6,100 C578.32,101.05 578.53,101.78 579.5,104 C580.47,106.22 581.98,111.57 583.4,113.3 C584.82,115.03 586.47,114.8 588,114.4 C589.53,114 591.25,112.25 592.6,110.9 C593.95,109.55 595.2,107.78 596.1,106.3 C597,104.82 597.1,103.72 598,102 C598.9,100.28 600.33,97.3 601.5,96 C602.67,94.7 604.42,94.5 605,94.2"/>
<path d="M517.5,66.3 C518.97,66.5 523.1,67.05 526.3,67.5 C529.5,67.95 533.25,68.57 536.7,69 C540.15,69.43 544.5,69.92 547,70.1 C549.5,70.28 550.27,69.17 551.7,70.1 C553.13,71.03 554.18,73.22 555.6,75.7 C557.02,78.18 558.85,81.92 560.2,85 C561.55,88.08 562.55,91.88 563.7,94.2 C564.85,96.52 565.75,97.73 567.1,98.9 C568.45,100.07 570.45,101.2 571.8,101.2 C573.15,101.2 574.23,98.9 575.2,98.9 C576.17,98.9 576.88,100.15 577.6,101.2 C578.32,102.25 578.53,102.98 579.5,105.2 C580.47,107.42 581.98,112.77 583.4,114.5 C584.82,116.23 586.47,116 588,115.6 C589.53,115.2 591.25,113.45 592.6,112.1 C593.95,110.75 595.2,108.98 596.1,107.5 C597,106.02 597.1,104.92 598,103.2 C598.9,101.48 600.33,98.7 601.5,97.2 C602.67,95.7 604.42,94.7 605,94.2"/>
<path d="M484.7,74.5 C485,75.27 485.82,76.78 486.5,79.1 C487.18,81.42 488.03,85.3 488.8,88.4 C489.57,91.5 490.33,95.77 491.1,97.7 C491.87,99.63 492.63,99.23 493.4,100 C494.17,100.77 494.83,101.15 495.7,102.3 C496.57,103.45 497.63,106.9 498.6,106.9 C499.57,106.9 500.43,104.42 501.5,102.3 C502.57,100.18 503.65,97.48 505,94.2 C506.35,90.92 508.05,86.47 509.6,82.6 C511.15,78.73 513,73.7 514.3,71 C515.6,68.3 515.87,67.27 517.4,66.4 C518.93,65.53 521.13,65.8 523.5,65.8 C525.87,65.8 528.18,65.82 531.6,66.4 C535.02,66.98 541.93,68.82 544,69.3"/>
<path d="M484.7,89.6 C485,90.5 485.82,92.5 486.5,95 C487.18,97.5 488.13,101.77 488.8,104.6 C489.47,107.43 489.73,110.27 490.5,112 C491.27,113.73 492.33,114.98 493.4,115 C494.47,115.02 495.97,112.43 496.9,112.1 C497.83,111.77 498.23,112.13 499,113 C499.77,113.87 500.7,117.25 501.5,117.3 C502.3,117.35 503.12,114.93 503.8,113.3 C504.48,111.67 504.98,110.1 505.6,107.5 C506.22,104.9 506.85,100.95 507.5,97.7 C508.15,94.45 508.77,91.28 509.5,88 C510.23,84.72 510.92,81.33 511.9,78 C512.88,74.67 514.48,70.75 515.4,68 C516.32,65.25 517.07,62.58 517.4,61.5"/>
<path d="M615,11.5 C615.97,11.88 618.87,12.83 620.8,13.8 C622.73,14.77 624.87,15.75 626.6,17.3 C628.33,18.85 629.65,21.37 631.2,23.1 C632.75,24.83 634.35,26.55 635.9,27.7 C637.45,28.85 638.58,30 640.5,30 C642.42,30 645.08,28.47 647.4,27.7 C649.72,26.93 652.27,26.37 654.4,25.4 C656.53,24.43 658.52,22.8 660.2,21.9 C661.88,21 663.78,20.32 664.5,20"/>
<path d="M605,37.5 C606.15,36.92 610.23,34.77 611.9,34 C613.57,33.23 613.32,33.27 615,32.9 C616.68,32.53 619.68,32.28 622,31.8 C624.32,31.32 627.27,30.1 628.9,30 C630.53,29.9 630.83,30.03 631.8,31.2 C632.77,32.37 633.63,35.07 634.7,37 C635.77,38.93 636.85,41.07 638.2,42.8 C639.55,44.53 641.27,46.43 642.8,47.4 C644.33,48.37 645.67,49.18 647.4,48.6 C649.13,48.02 651.27,46.22 653.2,43.9 C655.13,41.58 657.12,37.43 659,34.7 C660.88,31.97 663.58,28.7 664.5,27.5"/>
<path d="M583.7,37.5 C584.57,37.62 586.87,38.12 588.9,38.2 C590.93,38.28 593.22,38.12 595.9,38 C598.58,37.88 603.48,37.58 605,37.5" stroke-width="1.3"/>
<path d="M551.5,28.3 C552.18,28.97 554.15,30.28 555.6,32.3 C557.05,34.32 558.67,38.08 560.2,40.4 C561.73,42.72 563.45,44.75 564.8,46.2 C566.15,47.65 567.13,49.1 568.3,49.1 C569.47,49.1 570.83,47.65 571.8,46.2 C572.77,44.75 573.13,41.95 574.1,40.4 C575.07,38.85 576.45,37.67 577.6,36.9 C578.75,36.13 579.85,35.7 581,35.8 C582.15,35.9 583.92,37.22 584.5,37.5"/>
<path d="M571.8,42.7 C572.95,42.9 576.58,43.6 578.7,43.9 C580.82,44.2 582.18,44.02 584.5,44.5 C586.82,44.98 590.08,45.75 592.6,46.8 C595.12,47.85 597.53,49.55 599.6,50.8 C601.67,52.05 603.27,53.43 605,54.3 C606.73,55.17 608.5,55.38 610,56 C611.5,56.62 613.33,57.67 614,58"/>
<path d="M622,54.3 C622.77,53.53 624.87,51.05 626.6,49.7 C628.33,48.35 630.85,46.68 632.4,46.2 C633.95,45.72 634.75,46.22 635.9,46.8 C637.05,47.38 638.15,48.63 639.3,49.7 C640.45,50.77 641.63,52.43 642.8,53.2 C643.97,53.97 644.75,54.68 646.3,54.3 C647.85,53.92 650.17,53.22 652.1,50.9 C654.03,48.58 655.92,43.88 657.9,40.4 C659.88,36.92 662.98,31.73 664,30"/>
<path d="M627.7,10.8 C628,11.88 628.92,15.93 629.5,17.3 C630.08,18.67 629.75,19.2 631.2,19 C632.65,18.8 635.68,17.07 638.2,16.1 C640.72,15.13 643.8,14.08 646.3,13.2 C648.8,12.32 652.05,11.2 653.2,10.8"/>
<path d="M656.7,10.8 C657.38,11.5 659.58,14.7 660.8,15 C662.02,15.3 663.47,13 664,12.6"/>
<path d="M544,11.5 C545.17,11.4 549.27,10.52 551,10.9 C552.73,11.28 553.07,12.93 554.4,13.8 C555.73,14.67 557.65,14.75 559,16.1 C560.35,17.45 561.53,20.45 562.5,21.9 C563.47,23.35 563.63,25.38 564.8,24.8 C565.97,24.22 568.15,20.73 569.5,18.4 C570.85,16.07 572.33,12.07 572.9,10.8"/>
<path d="M544,11.5 C545.17,11.55 549.27,11.27 551,11.8 C552.73,12.33 553.07,13.83 554.4,14.7 C555.73,15.57 557.65,15.65 559,17 C560.35,18.35 561.53,21.35 562.5,22.8 C563.47,24.25 563.63,26.28 564.8,25.7 C565.97,25.12 568.15,21.78 569.5,19.3 C570.85,16.82 572.33,12.22 572.9,10.8"/>
<path d="M605,67 C605.83,66.17 608.17,63.67 610,62 C611.83,60.33 614.33,58.33 616,57 C617.67,55.67 618.67,54.83 620,54 C621.33,53.17 623.33,52.33 624,52"/>
<path d="M611,112.5 C611.93,112.58 615.1,112.92 616.6,113 C618.1,113.08 619.43,113 620,113"/>
<path d="M605,87.3 C605.97,86.33 608.87,83.43 610.8,81.5 C612.73,79.57 615.07,76.28 616.6,75.7 C618.13,75.12 618.85,76.27 620,78 C621.15,79.73 622.33,83.6 623.5,86.1 C624.67,88.6 625.45,90.68 627,93 C628.55,95.32 631.07,99.42 632.8,100 C634.53,100.58 635.67,98.43 637.4,96.5 C639.13,94.57 640.88,91.1 643.2,88.4 C645.52,85.7 648.8,82.62 651.3,80.3 C653.8,77.98 656.08,76.43 658.2,74.5 C660.32,72.57 663.03,69.67 664,68.7"/>
<path d="M592.6,108 C593.57,107.05 596.33,104.6 598.4,102.3 C600.47,100 603.9,95.55 605,94.2"/>
<path d="M598.4,108 L605,100"/>
<path d="M484.7,108.6 C485.38,108.42 487.75,107.27 488.8,107.5 C489.85,107.73 490.23,108.75 491,110 C491.77,111.25 493,114.17 493.4,115"/>
<path d="M484.7,115 C485.18,115.1 486.72,114.93 487.6,115.6 C488.48,116.27 489.22,117.75 490,119 C490.78,120.25 491.53,121.75 492.3,123.1 C493.07,124.45 493.83,125.85 494.6,127.1 C495.37,128.35 496.13,130.2 496.9,130.6 C497.67,131 498.43,129.88 499.2,129.5 C499.97,129.12 500.73,127.73 501.5,128.3 C502.27,128.87 503.03,130.58 503.8,132.9 C504.57,135.22 505.42,138.52 506.1,142.2 C506.78,145.88 507.47,151.93 507.9,155 C508.33,158.07 508.1,158.02 508.7,160.6 C509.3,163.18 510.43,167.18 511.5,170.5 C512.57,173.82 514.03,177.88 515.1,180.5 C516.17,183.12 516.37,185.48 517.9,186.2 C519.43,186.92 522.28,185.52 524.3,184.8 C526.32,184.08 528.1,183.33 530,181.9 C531.9,180.47 533.37,178.45 535.7,176.2 C538.03,173.95 541.38,170.18 544,168.4 C546.62,166.62 550.17,165.98 551.4,165.5"/>
<path d="M484.7,124.8 C485.18,124.42 486.53,123.17 487.6,122.5 C488.67,121.83 490.13,120.03 491.1,120.8 C492.07,121.57 492.63,124.88 493.4,127.1 C494.17,129.32 494.93,131.97 495.7,134.1 C496.47,136.23 497.22,137.97 498,139.9 C498.78,141.83 499.43,143.97 500.4,145.7 C501.37,147.43 502.65,148.75 503.8,150.3 C504.95,151.85 506.27,152.55 507.3,155 C508.33,157.45 509.05,161.67 510,165 C510.95,168.33 512.08,172.33 513,175 C513.92,177.67 514.68,178.92 515.5,181 C516.32,183.08 516.43,186.67 517.9,187.5 C519.37,188.33 522.28,186.75 524.3,186 C526.32,185.25 528.1,184.42 530,183 C531.9,181.58 533.37,179.75 535.7,177.5 C538.03,175.25 542.62,170.83 544,169.5"/>
<path d="M490,104 C490.18,105.15 490.72,108.2 491.1,110.9 C491.48,113.6 491.72,116.92 492.3,120.2 C492.88,123.48 493.83,127.52 494.6,130.6 C495.37,133.68 495.93,135.8 496.9,138.7 C497.87,141.6 499.33,145.12 500.4,148 C501.47,150.88 502.4,153 503.3,156 C504.2,159 504.95,162.73 505.8,166 C506.65,169.27 507.12,172.87 508.4,175.6 C509.68,178.33 511.95,180.7 513.5,182.4 C515.05,184.1 517,185.23 517.7,185.8"/>
<path d="M484.7,137.6 C485.18,137.78 486.53,137.93 487.6,138.7 C488.67,139.47 489.93,140.85 491.1,142.2 C492.27,143.55 493.45,145.07 494.6,146.8 C495.75,148.53 496.93,150.73 498,152.6 C499.07,154.47 500.12,155.87 501,158 C501.88,160.13 502.47,163.07 503.3,165.4 C504.13,167.73 504.87,168.77 506,172 C507.13,175.23 508.83,181.25 510.1,184.8 C511.37,188.35 512.3,191.63 513.6,193.3 C514.9,194.97 516.12,194.55 517.9,194.8 C519.68,195.05 522.52,195.05 524.3,194.8 C526.08,194.55 526.93,194.73 528.6,193.3 C530.27,191.87 532.4,189.05 534.3,186.2 C536.2,183.35 538.38,178.57 540,176.2 C541.62,173.83 542.1,173.07 544,172 C545.9,170.93 549.27,169.8 551.4,169.8 C553.53,169.8 554.95,171.05 556.8,172 C558.65,172.95 560.83,175.03 562.5,175.5 C564.17,175.97 565.13,175.63 566.8,174.8 C568.47,173.97 570.6,171.92 572.5,170.5 C574.4,169.08 576.35,167.48 578.2,166.3 C580.05,165.12 581.7,164.35 583.6,163.4 C585.5,162.45 587.17,162.02 589.6,160.6 C592.03,159.18 595.97,156.33 598.2,154.9 C600.43,153.47 602.2,152.48 603,152"/>
<path d="M484.7,139.9 C485.18,140.48 486.53,142.05 487.6,143.4 C488.67,144.75 489.93,145.9 491.1,148 C492.27,150.1 493.4,153.67 494.6,156 C495.8,158.33 496.85,159.02 498.3,162 C499.75,164.98 501.62,170.22 503.3,173.9 C504.98,177.58 506.7,181.28 508.4,184.1 C510.1,186.92 512.08,188.95 513.5,190.8 C514.92,192.65 515.32,194.42 516.9,195.2 C518.48,195.98 521.15,195.62 523,195.5 C524.85,195.38 527.17,194.67 528,194.5"/>
<path d="M484.7,146.8 C485.18,147.38 486.72,148.77 487.6,150.3 C488.48,151.83 488.78,152.92 490,156 C491.22,159.08 493.23,164.68 494.9,168.8 C496.57,172.92 498.32,177.03 500,180.7 C501.68,184.37 503.32,187.7 505,190.8 C506.68,193.9 508.12,197.32 510.1,199.3 C512.08,201.28 515.23,202.15 516.9,202.7 C518.57,203.25 518.62,203.22 520.1,202.6 C521.58,201.98 523.98,199.35 525.8,199 C527.62,198.65 529.1,199.67 531,200.5 C532.9,201.33 535.03,203.05 537.2,204 C539.37,204.95 541.63,205.72 544,206.2 C546.37,206.68 549.5,207.15 551.4,206.9 C553.3,206.65 554.25,205.57 555.4,204.7 C556.55,203.83 557.12,203.35 558.3,201.7 C559.48,200.05 561.08,197.15 562.5,194.8 C563.92,192.45 565.37,189.73 566.8,187.6 C568.23,185.47 569.43,183.42 571.1,182 C572.77,180.58 575.13,180.53 576.8,179.1 C578.47,177.67 579.92,175.53 581.1,173.4 C582.28,171.27 582.25,167.97 583.9,166.3 C585.55,164.63 588.38,164.83 591,163.4 C593.62,161.97 597.27,159.12 599.6,157.7 C601.93,156.28 604.1,155.37 605,154.9"/>
<path d="M484.7,152 C485.08,152.5 486.15,153.67 487,155 C487.85,156.33 488.8,157.83 489.8,160 C490.8,162.17 491.97,165.33 493,168 C494.03,170.67 495,173 496,176 C497,179 498,182.67 499,186 C500,189.33 501,192.83 502,196 C503,199.17 504.17,202.07 505,205 C505.83,207.93 506.67,212.17 507,213.6"/>
<path d="M484.7,158 C485.08,158.33 486.12,158.67 487,160 C487.88,161.33 489,163.33 490,166 C491,168.67 492.08,172.67 493,176 C493.92,179.33 494.67,182.5 495.5,186 C496.33,189.5 497.25,193.67 498,197 C498.75,200.33 499.42,203.23 500,206 C500.58,208.77 501.25,212.33 501.5,213.6"/>
<path d="M484.7,169.1 C485.25,169.17 486.95,168.85 488,169.5 C489.05,170.15 490,171.08 491,173 C492,174.92 493,178 494,181 C495,184 496.17,187.83 497,191 C497.83,194.17 498.33,197.17 499,200 C499.67,202.83 500.45,205.73 501,208 C501.55,210.27 502.08,212.67 502.3,213.6"/>
<path d="M484.7,180.5 C485.42,180.75 487.78,180.92 489,182 C490.22,183.08 491,184.67 492,187 C493,189.33 494.17,193 495,196 C495.83,199 496.45,202.07 497,205 C497.55,207.93 498.08,212.17 498.3,213.6"/>
<path d="M484.7,193.3 C485.5,193.58 488.2,193.88 489.5,195 C490.8,196.12 491.67,198 492.5,200 C493.33,202 494,204.73 494.5,207 C495,209.27 495.33,212.5 495.5,213.6"/>
<path d="M484.7,206.2 C485.75,206.33 489.28,206.37 491,207 C492.72,207.63 494,208.9 495,210 C496,211.1 496.67,213 497,213.6"/>
<path d="M484.7,203 C485.58,202.92 488.45,202.25 490,202.5 C491.55,202.75 493.33,204.17 494,204.5"/>
<path d="M500,207.5 C501.17,207.42 505,207.25 507,207 C509,206.75 510.25,206.83 512,206 C513.75,205.17 515.45,202.8 517.5,202 C519.55,201.2 522.22,201.12 524.3,201.2 C526.38,201.28 527.88,201.87 530,202.5 C532.12,203.13 534.67,204.27 537,205 C539.33,205.73 542.83,206.58 544,206.9"/>
<path d="M514.4,213.6 C514.67,213.07 515.42,210.4 516,210.4 C516.58,210.4 517.58,213.07 517.9,213.6"/>
<path d="M523,213.6 C523.47,213.17 524.63,211 525.8,211 C526.97,211 529.3,213.17 530,213.6"/>
<path d="M544,210.5 C545.23,210.67 549.5,210.98 551.4,211.5 C553.3,212.02 554.73,213.25 555.4,213.6"/>
<path d="M605,97.7 C605.97,96.73 608.87,93.25 610.8,91.9 C612.73,90.55 614.87,89.22 616.6,89.6 C618.33,89.98 619.67,92.08 621.2,94.2 C622.73,96.32 624.65,100.08 625.8,102.3 C626.95,104.52 626.93,106.07 628.1,107.5 C629.27,108.93 631.43,109.85 632.8,110.9 C634.17,111.95 635.15,113.8 636.3,113.8 C637.45,113.8 638.35,112.33 639.7,110.9 C641.05,109.47 642.85,107.22 644.4,105.2 C645.95,103.18 647.08,101.98 649,98.8 C650.92,95.62 653.4,91.12 655.9,86.1 C658.4,81.08 662.65,71.6 664,68.7"/>
<path d="M568.9,156 C569.18,155.25 569.73,153.22 570.6,151.5 C571.47,149.78 572.75,147.25 574.1,145.7 C575.45,144.15 577.15,142.82 578.7,142.2 C580.25,141.58 582.05,142.38 583.4,142 C584.75,141.62 585.65,141.42 586.8,139.9 C587.95,138.38 588.95,135.6 590.3,132.9 C591.65,130.2 593.35,126.4 594.9,123.7 C596.45,121 597.92,118.78 599.6,116.7 C601.28,114.62 602.95,112.55 605,111.2 C607.05,109.85 609.87,109.07 611.9,108.6 C613.93,108.13 615.45,108.4 617.2,108.4 C618.95,108.4 620.58,108.18 622.4,108.6 C624.22,109.02 626.37,109.73 628.1,110.9 C629.83,112.07 631.43,114.17 632.8,115.6 C634.17,117.03 635.33,117.97 636.3,119.5 C637.27,121.03 637.83,122.57 638.6,124.8 C639.37,127.03 639.93,129.62 640.9,132.9 C641.87,136.18 643.17,140.65 644.4,144.5 C645.63,148.35 646.88,153.17 648.3,156 C649.72,158.83 651.28,160.25 652.9,161.5 C654.52,162.75 656.15,163 658,163.5 C659.85,164 663,164.33 664,164.5"/>
<path d="M566,160 C566.33,159.33 567.17,157.25 568,156 C568.83,154.75 569.8,153.75 571,152.5 C572.2,151.25 573.73,149.63 575.2,148.5 C576.67,147.37 578.25,146.08 579.8,145.7 C581.35,145.32 582.95,145.72 584.5,146.2 C586.05,146.68 587.75,148.3 589.1,148.6 C590.45,148.9 591.47,148.6 592.6,148 C593.73,147.4 594.87,146.33 595.9,145 C596.93,143.67 597.37,142.42 598.8,140 C600.23,137.58 602.87,133.75 604.5,130.5 C606.13,127.25 607.15,123.17 608.6,120.5 C610.05,117.83 611.8,115.78 613.2,114.5 C614.6,113.22 615.78,112.07 617,112.8 C618.22,113.53 619.35,117.1 620.5,118.9 C621.65,120.7 622.93,122.05 623.9,123.6 C624.87,125.15 625.52,126.28 626.3,128.2 C627.08,130.12 627.83,132.78 628.6,135.1 C629.37,137.42 630.17,140.03 630.9,142.1 C631.63,144.17 632.15,145.18 633,147.5 C633.85,149.82 634.83,153.25 636,156 C637.17,158.75 638.67,161.55 640,164 C641.33,166.45 642.43,169.37 644,170.7 C645.57,172.03 647.62,172 649.4,172 C651.18,172 652.92,171.25 654.7,170.7 C656.48,170.15 658.47,169.15 660.1,168.7 C661.73,168.25 663.77,168.12 664.5,168"/>
<path d="M584.3,158.3 C585.07,158.12 587.37,158.35 588.9,157.2 C590.43,156.05 592.15,153.33 593.5,151.4 C594.85,149.47 595.63,148.17 597,145.6 C598.37,143.03 599.97,139.18 601.7,136 C603.43,132.82 605.48,129.42 607.4,126.5 C609.32,123.58 611.45,120.5 613.2,118.5 C614.95,116.5 616.57,115.17 617.9,114.5 C619.23,113.83 620.22,113.67 621.2,114.5 C622.18,115.33 622.92,117.75 623.8,119.5 C624.68,121.25 625.67,123.08 626.5,125 C627.33,126.92 628.05,128.92 628.8,131 C629.55,133.08 630.25,135.25 631,137.5 C631.75,139.75 632.4,141.75 633.3,144.5 C634.2,147.25 635.2,150.95 636.4,154 C637.6,157.05 639.15,160.22 640.5,162.8 C641.85,165.38 643.02,168.13 644.5,169.5 C645.98,170.87 647.7,170.97 649.4,171 C651.1,171.03 652.92,170.2 654.7,169.7 C656.48,169.2 658.47,168.37 660.1,168 C661.73,167.63 663.77,167.58 664.5,167.5"/>
<path d="M584.3,158.8 C585.07,158.63 587.37,158.9 588.9,157.8 C590.43,156.7 592.15,154 593.5,152.2 C594.85,150.4 595.45,149.2 597,147 C598.55,144.8 600.87,141.5 602.8,139 C604.73,136.5 606.67,134.17 608.6,132 C610.53,129.83 612.67,127.5 614.4,126 C616.13,124.5 617.67,123.58 619,123 C620.33,122.42 621.27,122.38 622.4,122.5 C623.53,122.62 624.85,122.73 625.8,123.7 C626.75,124.67 627.13,126.18 628.1,128.3 C629.07,130.42 630.68,133.95 631.6,136.4 C632.52,138.85 632.93,140.73 633.6,143 C634.27,145.27 634.9,147.58 635.6,150 C636.3,152.42 637,155 637.8,157.5 C638.6,160 639.5,162.5 640.4,165 C641.3,167.5 642.18,170.33 643.2,172.5 C644.22,174.67 645.25,176.75 646.5,178 C647.75,179.25 649.1,180.33 650.7,180 C652.3,179.67 654.32,177.33 656.1,176 C657.88,174.67 660,173.17 661.4,172 C662.8,170.83 663.98,169.5 664.5,169"/>
<path d="M575,158.3 C575.67,158.17 577.67,157.3 579,157.5 C580.33,157.7 581.73,158.97 583,159.5 C584.27,160.03 585.27,160.78 586.6,160.7 C587.93,160.62 589.45,159.78 591,159 C592.55,158.22 594.12,157.27 595.9,156 C597.68,154.73 599.78,152.75 601.7,151.4 C603.62,150.05 605.48,148.87 607.4,147.9 C609.32,146.93 611.45,146.15 613.2,145.6 C614.95,145.05 616.37,144.62 617.9,144.6 C619.43,144.58 621.15,144.6 622.4,145.5 C623.65,146.4 624.38,148.17 625.4,150 C626.42,151.83 627.4,154.17 628.5,156.5 C629.6,158.83 630.83,161.58 632,164 C633.17,166.42 634.33,168.75 635.5,171 C636.67,173.25 637.75,175.58 639,177.5 C640.25,179.42 641.67,181.33 643,182.5 C644.33,183.67 645.72,184.58 647,184.5 C648.28,184.42 649.37,183.08 650.7,182 C652.03,180.92 653.45,179.5 655,178 C656.55,176.5 658.42,174.33 660,173 C661.58,171.67 663.75,170.5 664.5,170"/>
<path d="M598.2,160.7 C599.35,159.92 603,157.62 605.1,156 C607.2,154.38 608.88,152.15 610.8,151 C612.72,149.85 614.87,148.83 616.6,149.1 C618.33,149.37 620.05,151.12 621.2,152.6 C622.35,154.08 622.62,155.93 623.5,158 C624.38,160.07 625.42,162.58 626.5,165 C627.58,167.42 628.75,169.92 630,172.5 C631.25,175.08 632.58,178.25 634,180.5 C635.42,182.75 636.92,184.58 638.5,186 C640.08,187.42 641.92,188.25 643.5,189 C645.08,189.75 646.58,189.5 648,190.5 C649.42,191.5 650.62,193.17 652,195 C653.38,196.83 654.4,199.77 656.3,201.5 C658.2,203.23 662.22,204.75 663.4,205.4"/>
<path d="M575,191.2 C575.42,190.5 576.57,189.08 577.5,187 C578.43,184.92 579.77,181.95 580.6,178.7 C581.43,175.45 581.98,170.2 582.5,167.5 C583.02,164.8 583.5,163.33 583.7,162.5"/>
<path d="M576,191.5 C576.42,190.83 577.57,189.58 578.5,187.5 C579.43,185.42 580.77,182.25 581.6,179 C582.43,175.75 582.98,170.7 583.5,168 C584.02,165.3 584.5,163.67 584.7,162.8"/>
<path d="M582.5,177.5 C583.08,178.08 584.75,179.92 586,181 C587.25,182.08 588.92,183.33 590,184 C591.08,184.67 592.08,184.83 592.5,185"/>
<path d="M551.4,164.8 C552.3,164.8 554.7,164.68 556.8,164.8 C558.9,164.92 561.85,166.2 564,165.5 C566.15,164.8 567.57,161.9 569.7,160.6 C571.83,159.3 574.48,158.07 576.8,157.7 C579.12,157.33 581.47,158.63 583.6,158.4 C585.73,158.17 587.65,157.37 589.6,156.3 C591.55,155.23 593.73,153.55 595.3,152 C596.87,150.45 597.38,148.43 599,147 C600.62,145.57 604,144 605,143.4"/>
<path d="M551.4,164.8 C552.3,164.97 554.7,165.52 556.8,165.8 C558.9,166.08 561.85,167.2 564,166.5 C566.15,165.8 567.57,162.9 569.7,161.6 C571.83,160.3 574.48,159.07 576.8,158.7 C579.12,158.33 581.47,159.63 583.6,159.4 C585.73,159.17 587.65,158.37 589.6,157.3 C591.55,156.23 593.73,154.55 595.3,153 C596.87,151.45 597.38,149.6 599,148 C600.62,146.4 604,144.17 605,143.4"/>
<path d="M558.3,213.6 C559,211.88 561.08,206.43 562.5,203.3 C563.92,200.17 565.37,196.7 566.8,194.8 C568.23,192.9 569.67,193.33 571.1,191.9 C572.53,190.47 573.98,188.33 575.4,186.2 C576.82,184.07 578.18,180.52 579.6,179.1 C581.02,177.68 582.47,177.47 583.9,177.7 C585.33,177.93 586.77,179.32 588.2,180.5 C589.63,181.68 590.83,185.27 592.5,184.8 C594.17,184.33 596.12,180.78 598.2,177.7 C600.28,174.62 602.92,167.97 605,166.3 C607.08,164.63 608.68,167.47 610.7,167.7 C612.72,167.93 614.97,167.23 617.1,167.7 C619.23,168.17 621.48,168.6 623.5,170.5 C625.52,172.4 627.53,176.25 629.2,179.1 C630.87,181.95 632.07,185.23 633.5,187.6 C634.93,189.97 636.37,191.63 637.8,193.3 C639.23,194.97 640.43,196.17 642.1,197.6 C643.77,199.03 645.43,200.47 647.8,201.9 C650.17,203.33 653.7,205.35 656.3,206.2 C658.9,207.05 662.22,206.87 663.4,207"/>
<path d="M562,213.6 C562.8,212.37 565.05,208.63 566.8,206.2 C568.55,203.77 570.6,200.9 572.5,199 C574.4,197.1 576.35,196.22 578.2,194.8 C580.05,193.38 581.47,191.93 583.6,190.5 C585.73,189.07 588.57,187.38 591,186.2 C593.43,185.02 595.87,184.35 598.2,183.4 C600.53,182.45 602.92,181.1 605,180.5 C607.08,179.9 608.68,179.8 610.7,179.8 C612.72,179.8 614.97,179.9 617.1,180.5 C619.23,181.1 621.48,181.97 623.5,183.4 C625.52,184.83 627.3,186.5 629.2,189.1 C631.1,191.7 633,196.15 634.9,199 C636.8,201.85 638.45,204.05 640.6,206.2 C642.75,208.35 646.23,210.67 647.8,211.9 C649.37,213.13 649.63,213.32 650,213.6"/>
<path d="M564,213.6 C564.95,212.83 567.8,210.48 569.7,209 C571.6,207.52 573.5,206.12 575.4,204.7 C577.3,203.28 579.2,201.92 581.1,200.5 C583,199.08 584.67,197.87 586.8,196.2 C588.93,194.53 590.87,191.93 593.9,190.5 C596.93,189.07 602.2,187.97 605,187.6 C607.8,187.23 608.68,187.35 610.7,188.3 C612.72,189.25 614.97,191.75 617.1,193.3 C619.23,194.85 621.48,195.93 623.5,197.6 C625.52,199.27 627.53,201.4 629.2,203.3 C630.87,205.2 632.45,207.28 633.5,209 C634.55,210.72 635.17,212.83 635.5,213.6"/>
<path d="M605,159.8 C605.95,159.45 608.68,158.05 610.7,157.7 C612.72,157.35 614.97,157.22 617.1,157.7 C619.23,158.18 621.72,158.7 623.5,160.6 C625.28,162.5 626.37,166.25 627.8,169.1 C629.23,171.95 630.67,174.85 632.1,177.7 C633.53,180.55 634.98,184.07 636.4,186.2 C637.82,188.33 638.95,189.43 640.6,190.5 C642.25,191.57 644.63,191.42 646.3,192.6 C647.97,193.78 648.93,195.58 650.6,197.6 C652.27,199.62 654.17,203.15 656.3,204.7 C658.43,206.25 662.22,206.53 663.4,206.9"/>
<path d="M598,213.6 C598.5,212.95 599.83,211.18 601,209.7 C602.17,208.22 603.38,205.42 605,204.7 C606.62,203.98 608.68,205.03 610.7,205.4 C612.72,205.77 614.97,206.42 617.1,206.9 C619.23,207.38 621.68,207.18 623.5,208.3 C625.32,209.42 627.25,212.72 628,213.6"/>
<path d="M605,211.9 C605.83,211.5 607.98,209.9 610,209.5 C612.02,209.1 614.85,209.25 617.1,209.5 C619.35,209.75 622.02,210.32 623.5,211 C624.98,211.68 625.58,213.17 626,213.6"/>
<path d="M612,189.4 C612.88,189.5 615.52,189.33 617.3,190 C619.08,190.67 621.13,191.73 622.7,193.4 C624.27,195.07 625.65,197.9 626.7,200 C627.75,202.1 628.28,203.73 629,206 C629.72,208.27 630.67,212.33 631,213.6"/>
</g>
<g stroke="#e41c1c" stroke-width="2.2" stroke-linecap="butt"><line x1="612.5" y1="135.3" x2="618.5" y2="139"/><line x1="601.8" y1="118.5" x2="604.7" y2="124.3"/><line x1="598.2" y1="99.5" x2="599.4" y2="106.6"/><line x1="601.9" y1="89.3" x2="599.9" y2="83"/><line x1="606.5" y1="73.6" x2="611" y2="66.5"/></g><path d="M615.8,59.8 L613.38,68.19 L607.99,63.71 Z" fill="#e41c1c"/>
<g stroke="#1c1ce0" stroke-width="2.2" stroke-linecap="butt"><line x1="620.2" y1="157.5" x2="624.9" y2="152.9"/><line x1="631.2" y1="144" x2="635.7" y2="137.9"/><line x1="641" y1="128.1" x2="644.2" y2="121"/><line x1="645.2" y1="109" x2="644.8" y2="102"/><line x1="643.6" y1="91.5" x2="641.6" y2="85"/><line x1="636" y1="75.5" x2="631.8" y2="69.3"/></g><path d="M620.7,60.3 L628.76,63.65 L623.71,68.5 Z" fill="#1c1ce0"/>
<text x="611.4" y="54.5" font-family="Liberation Sans, sans-serif" font-size="12.5" fill="#1c1ce0">B<tspan font-size="6.5" dy="3.8">u</tspan></text>
<text x="619.4" y="142.7" font-family="Liberation Sans, sans-serif" font-size="12.5" fill="#e41c1c">A<tspan font-size="7.5" dy="4.6">g</tspan></text>
<text x="609" y="164.1" font-family="Liberation Sans, sans-serif" font-size="12.5" fill="#1c1ce0">B<tspan font-size="7.5" dy="4.6">g</tspan></text>
<line x1="484.4" y1="10.4" x2="484.4" y2="213.9" stroke="#505050" stroke-width="1.1"/>
<line x1="664.7" y1="10.4" x2="664.7" y2="213.9" stroke="#606060" stroke-width="1.1"/>
<line x1="483.8" y1="10.4" x2="665.3" y2="10.4" stroke="#4a4a4a" stroke-width="1.5"/>
<line x1="483.8" y1="213.9" x2="665.3" y2="213.9" stroke="#404040" stroke-width="1.3"/>
<g stroke="#555" stroke-width="1">
<line x1="481.1" y1="10.4" x2="484.4" y2="10.4"/>
<line x1="482.4" y1="23.12" x2="484.4" y2="23.12"/>
<line x1="481.1" y1="35.84" x2="484.4" y2="35.84"/>
<line x1="482.4" y1="48.56" x2="484.4" y2="48.56"/>
<line x1="481.1" y1="61.27" x2="484.4" y2="61.27"/>
<line x1="482.4" y1="73.99" x2="484.4" y2="73.99"/>
<line x1="481.1" y1="86.71" x2="484.4" y2="86.71"/>
<line x1="482.4" y1="99.43" x2="484.4" y2="99.43"/>
<line x1="481.1" y1="112.15" x2="484.4" y2="112.15"/>
<line x1="482.4" y1="124.87" x2="484.4" y2="124.87"/>
<line x1="481.1" y1="137.59" x2="484.4" y2="137.59"/>
<line x1="482.4" y1="150.31" x2="484.4" y2="150.31"/>
<line x1="481.1" y1="163.03" x2="484.4" y2="163.03"/>
<line x1="482.4" y1="175.74" x2="484.4" y2="175.74"/>
<line x1="481.1" y1="188.46" x2="484.4" y2="188.46"/>
<line x1="482.4" y1="201.18" x2="484.4" y2="201.18"/>
<line x1="481.1" y1="213.9" x2="484.4" y2="213.9"/>
</g>
<g font-family="Liberation Sans, sans-serif" font-size="9" fill="#222" text-anchor="end">
<text x="479.2" y="13.6">2.0</text>
<text x="479.2" y="39.04">1.5</text>
<text x="479.2" y="64.47">1.0</text>
<text x="479.2" y="89.91">0.5</text>
<text x="479.2" y="115.35">0.0</text>
<text x="479.2" y="140.79">-0.5</text>
<text x="479.2" y="166.22">-1.0</text>
<text x="479.2" y="191.66">-1.5</text>
<text x="479.2" y="217.1">-2.0</text>
</g>
<g font-family="Liberation Sans, sans-serif" font-size="9.6" fill="#222" text-anchor="middle">
<text x="486.5" y="226.8">Γ</text>
<text x="520.2" y="226.8">Y</text>
<text x="554.1" y="226.8">S</text>
<text x="586.5" y="226.8">X</text>
<text x="620.9" y="226.8">Γ</text>
<text x="665.6" y="226.8">S</text>
</g>
<text transform="translate(458.3,112.1) rotate(-90)" font-family="Liberation Sans, sans-serif" font-size="10.4" fill="#222" text-anchor="middle">E-E<tspan font-size="7" dy="2.5">F</tspan><tspan dy="-2.5"> (eV)</tspan></text>
<text x="449.5" y="16.2" font-family="Liberation Sans, sans-serif" font-size="18" font-weight="bold" fill="#000">c</text>
<g stroke="#8a8a8a" stroke-width="0.95" stroke-dasharray="2.3,3.0" fill="none">
<circle cx="131.5" cy="344.3" r="32.8"/>
<circle cx="131.5" cy="344.3" r="65.5"/>
<line x1="221.5" y1="344.3" x2="147" y2="344.3" stroke-dashoffset="3.3"/>
<line x1="209.44" y1="299.3" x2="144.92" y2="336.55" stroke-dashoffset="3.3"/>
<line x1="176.5" y1="266.36" x2="139.25" y2="330.88" stroke-dashoffset="3.3"/>
<line x1="131.5" y1="254.3" x2="131.5" y2="328.8" stroke-dashoffset="3.3"/>
<line x1="86.5" y1="266.36" x2="123.75" y2="330.88" stroke-dashoffset="3.3"/>
<line x1="53.56" y1="299.3" x2="118.08" y2="336.55" stroke-dashoffset="3.3"/>
<line x1="41.5" y1="344.3" x2="116" y2="344.3" stroke-dashoffset="3.3"/>
<line x1="53.56" y1="389.3" x2="118.08" y2="352.05" stroke-dashoffset="3.3"/>
<line x1="86.5" y1="422.24" x2="123.75" y2="357.72" stroke-dashoffset="3.3"/>
<line x1="131.5" y1="434.3" x2="131.5" y2="359.8" stroke-dashoffset="3.3"/>
<line x1="176.5" y1="422.24" x2="139.25" y2="357.72" stroke-dashoffset="3.3"/>
<line x1="209.44" y1="389.3" x2="144.92" y2="352.05" stroke-dashoffset="3.3"/>
</g>
<circle cx="131.5" cy="344.3" r="90" fill="none" stroke="#858585" stroke-width="1.05"/>
<g stroke="#666" stroke-width="1">
<line x1="221.5" y1="344.3" x2="218.5" y2="344.3"/>
<line x1="218.43" y1="321.01" x2="216.5" y2="321.52"/>
<line x1="209.44" y1="299.3" x2="206.84" y2="300.8"/>
<line x1="195.14" y1="280.66" x2="193.73" y2="282.07"/>
<line x1="176.5" y1="266.36" x2="175" y2="268.96"/>
<line x1="154.79" y1="257.37" x2="154.28" y2="259.3"/>
<line x1="131.5" y1="254.3" x2="131.5" y2="257.3"/>
<line x1="108.21" y1="257.37" x2="108.72" y2="259.3"/>
<line x1="86.5" y1="266.36" x2="88" y2="268.96"/>
<line x1="67.86" y1="280.66" x2="69.27" y2="282.07"/>
<line x1="53.56" y1="299.3" x2="56.16" y2="300.8"/>
<line x1="44.57" y1="321.01" x2="46.5" y2="321.52"/>
<line x1="41.5" y1="344.3" x2="44.5" y2="344.3"/>
<line x1="44.57" y1="367.59" x2="46.5" y2="367.08"/>
<line x1="53.56" y1="389.3" x2="56.16" y2="387.8"/>
<line x1="67.86" y1="407.94" x2="69.27" y2="406.53"/>
<line x1="86.5" y1="422.24" x2="88" y2="419.64"/>
<line x1="108.21" y1="431.23" x2="108.72" y2="429.3"/>
<line x1="131.5" y1="434.3" x2="131.5" y2="431.3"/>
<line x1="154.79" y1="431.23" x2="154.28" y2="429.3"/>
<line x1="176.5" y1="422.24" x2="175" y2="419.64"/>
<line x1="195.14" y1="407.94" x2="193.73" y2="406.53"/>
<line x1="209.44" y1="389.3" x2="206.84" y2="387.8"/>
<line x1="218.43" y1="367.59" x2="216.5" y2="367.08"/>
</g>
<g font-family="Liberation Sans, sans-serif" font-size="10" fill="#222">
<text x="224.9" y="349.7" text-anchor="start">0</text>
<text x="212.8" y="297.1" text-anchor="start">30</text>
<text x="178" y="263" text-anchor="start">60</text>
<text x="131.3" y="250.7" text-anchor="middle">90</text>
<text x="85.5" y="262.8" text-anchor="end">120</text>
<text x="51.4" y="296.9" text-anchor="end">150</text>
<text x="38.9" y="349.2" text-anchor="end">180</text>
<text x="51.4" y="401.4" text-anchor="end">210</text>
<text x="85.6" y="434.8" text-anchor="end">240</text>
<text x="132" y="447.6" text-anchor="middle">270</text>
<text x="177.9" y="434.8" text-anchor="start">300</text>
<text x="212.2" y="401.4" text-anchor="start">330</text>
</g>
<text x="7.5" y="262.2" font-family="Liberation Sans, sans-serif" font-size="18" font-weight="bold" fill="#000">d</text>
<g stroke="#8a8a8a" stroke-width="0.95" stroke-dasharray="2.3,3.0" fill="none">
<circle cx="353.1" cy="344.3" r="32.8"/>
<circle cx="353.1" cy="344.3" r="65.5"/>
<line x1="443.1" y1="344.3" x2="368.6" y2="344.3" stroke-dashoffset="3.3"/>
<line x1="431.04" y1="299.3" x2="366.52" y2="336.55" stroke-dashoffset="3.3"/>
<line x1="398.1" y1="266.36" x2="360.85" y2="330.88" stroke-dashoffset="3.3"/>
<line x1="353.1" y1="254.3" x2="353.1" y2="328.8" stroke-dashoffset="3.3"/>
<line x1="308.1" y1="266.36" x2="345.35" y2="330.88" stroke-dashoffset="3.3"/>
<line x1="275.16" y1="299.3" x2="339.68" y2="336.55" stroke-dashoffset="3.3"/>
<line x1="263.1" y1="344.3" x2="337.6" y2="344.3" stroke-dashoffset="3.3"/>
<line x1="275.16" y1="389.3" x2="339.68" y2="352.05" stroke-dashoffset="3.3"/>
<line x1="308.1" y1="422.24" x2="345.35" y2="357.72" stroke-dashoffset="3.3"/>
<line x1="353.1" y1="434.3" x2="353.1" y2="359.8" stroke-dashoffset="3.3"/>
<line x1="398.1" y1="422.24" x2="360.85" y2="357.72" stroke-dashoffset="3.3"/>
<line x1="431.04" y1="389.3" x2="366.52" y2="352.05" stroke-dashoffset="3.3"/>
</g>
<circle cx="353.1" cy="344.3" r="90" fill="none" stroke="#858585" stroke-width="1.05"/>
<g stroke="#666" stroke-width="1">
<line x1="443.1" y1="344.3" x2="440.1" y2="344.3"/>
<line x1="440.03" y1="321.01" x2="438.1" y2="321.52"/>
<line x1="431.04" y1="299.3" x2="428.44" y2="300.8"/>
<line x1="416.74" y1="280.66" x2="415.33" y2="282.07"/>
<line x1="398.1" y1="266.36" x2="396.6" y2="268.96"/>
<line x1="376.39" y1="257.37" x2="375.88" y2="259.3"/>
<line x1="353.1" y1="254.3" x2="353.1" y2="257.3"/>
<line x1="329.81" y1="257.37" x2="330.32" y2="259.3"/>
<line x1="308.1" y1="266.36" x2="309.6" y2="268.96"/>
<line x1="289.46" y1="280.66" x2="290.87" y2="282.07"/>
<line x1="275.16" y1="299.3" x2="277.76" y2="300.8"/>
<line x1="266.17" y1="321.01" x2="268.1" y2="321.52"/>
<line x1="263.1" y1="344.3" x2="266.1" y2="344.3"/>
<line x1="266.17" y1="367.59" x2="268.1" y2="367.08"/>
<line x1="275.16" y1="389.3" x2="277.76" y2="387.8"/>
<line x1="289.46" y1="407.94" x2="290.87" y2="406.53"/>
<line x1="308.1" y1="422.24" x2="309.6" y2="419.64"/>
<line x1="329.81" y1="431.23" x2="330.32" y2="429.3"/>
<line x1="353.1" y1="434.3" x2="353.1" y2="431.3"/>
<line x1="376.39" y1="431.23" x2="375.88" y2="429.3"/>
<line x1="398.1" y1="422.24" x2="396.6" y2="419.64"/>
<line x1="416.74" y1="407.94" x2="415.33" y2="406.53"/>
<line x1="431.04" y1="389.3" x2="428.44" y2="387.8"/>
<line x1="440.03" y1="367.59" x2="438.1" y2="367.08"/>
</g>
<g font-family="Liberation Sans, sans-serif" font-size="10" fill="#222">
<text x="446.5" y="349.7" text-anchor="start">0</text>
<text x="434.4" y="297.1" text-anchor="start">30</text>
<text x="399.6" y="263" text-anchor="start">60</text>
<text x="352.9" y="250.7" text-anchor="middle">90</text>
<text x="307.1" y="262.8" text-anchor="end">120</text>
<text x="273" y="296.9" text-anchor="end">150</text>
<text x="260.5" y="349.2" text-anchor="end">180</text>
<text x="273" y="401.4" text-anchor="end">210</text>
<text x="307.2" y="434.8" text-anchor="end">240</text>
<text x="353.6" y="447.6" text-anchor="middle">270</text>
<text x="399.5" y="434.8" text-anchor="start">300</text>
<text x="433.8" y="401.4" text-anchor="start">330</text>
</g>
<text x="237.5" y="262" font-family="Liberation Sans, sans-serif" font-size="18" font-weight="bold" fill="#000">e</text>
<g stroke="#8a8a8a" stroke-width="0.95" stroke-dasharray="2.3,3.0" fill="none">
<circle cx="574.4" cy="344.3" r="32.8"/>
<circle cx="574.4" cy="344.3" r="65.5"/>
<line x1="664.4" y1="344.3" x2="589.9" y2="344.3" stroke-dashoffset="3.3"/>
<line x1="652.34" y1="299.3" x2="587.82" y2="336.55" stroke-dashoffset="3.3"/>
<line x1="619.4" y1="266.36" x2="582.15" y2="330.88" stroke-dashoffset="3.3"/>
<line x1="574.4" y1="254.3" x2="574.4" y2="328.8" stroke-dashoffset="3.3"/>
<line x1="529.4" y1="266.36" x2="566.65" y2="330.88" stroke-dashoffset="3.3"/>
<line x1="496.46" y1="299.3" x2="560.98" y2="336.55" stroke-dashoffset="3.3"/>
<line x1="484.4" y1="344.3" x2="558.9" y2="344.3" stroke-dashoffset="3.3"/>
<line x1="496.46" y1="389.3" x2="560.98" y2="352.05" stroke-dashoffset="3.3"/>
<line x1="529.4" y1="422.24" x2="566.65" y2="357.72" stroke-dashoffset="3.3"/>
<line x1="574.4" y1="434.3" x2="574.4" y2="359.8" stroke-dashoffset="3.3"/>
<line x1="619.4" y1="422.24" x2="582.15" y2="357.72" stroke-dashoffset="3.3"/>
<line x1="652.34" y1="389.3" x2="587.82" y2="352.05" stroke-dashoffset="3.3"/>
</g>
<circle cx="574.4" cy="344.3" r="90" fill="none" stroke="#858585" stroke-width="1.05"/>
<g stroke="#666" stroke-width="1">
<line x1="664.4" y1="344.3" x2="661.4" y2="344.3"/>
<line x1="661.33" y1="321.01" x2="659.4" y2="321.52"/>
<line x1="652.34" y1="299.3" x2="649.74" y2="300.8"/>
<line x1="638.04" y1="280.66" x2="636.63" y2="282.07"/>
<line x1="619.4" y1="266.36" x2="617.9" y2="268.96"/>
<line x1="597.69" y1="257.37" x2="597.18" y2="259.3"/>
<line x1="574.4" y1="254.3" x2="574.4" y2="257.3"/>
<line x1="551.11" y1="257.37" x2="551.62" y2="259.3"/>
<line x1="529.4" y1="266.36" x2="530.9" y2="268.96"/>
<line x1="510.76" y1="280.66" x2="512.17" y2="282.07"/>
<line x1="496.46" y1="299.3" x2="499.06" y2="300.8"/>
<line x1="487.47" y1="321.01" x2="489.4" y2="321.52"/>
<line x1="484.4" y1="344.3" x2="487.4" y2="344.3"/>
<line x1="487.47" y1="367.59" x2="489.4" y2="367.08"/>
<line x1="496.46" y1="389.3" x2="499.06" y2="387.8"/>
<line x1="510.76" y1="407.94" x2="512.17" y2="406.53"/>
<line x1="529.4" y1="422.24" x2="530.9" y2="419.64"/>
<line x1="551.11" y1="431.23" x2="551.62" y2="429.3"/>
<line x1="574.4" y1="434.3" x2="574.4" y2="431.3"/>
<line x1="597.69" y1="431.23" x2="597.18" y2="429.3"/>
<line x1="619.4" y1="422.24" x2="617.9" y2="419.64"/>
<line x1="638.04" y1="407.94" x2="636.63" y2="406.53"/>
<line x1="652.34" y1="389.3" x2="649.74" y2="387.8"/>
<line x1="661.33" y1="367.59" x2="659.4" y2="367.08"/>
</g>
<g font-family="Liberation Sans, sans-serif" font-size="10" fill="#222">
<text x="667.8" y="349.7" text-anchor="start">0</text>
<text x="655.7" y="297.1" text-anchor="start">30</text>
<text x="620.9" y="263" text-anchor="start">60</text>
<text x="574.2" y="250.7" text-anchor="middle">90</text>
<text x="528.4" y="262.8" text-anchor="end">120</text>
<text x="494.3" y="296.9" text-anchor="end">150</text>
<text x="481.8" y="349.2" text-anchor="end">180</text>
<text x="494.3" y="401.4" text-anchor="end">210</text>
<text x="528.5" y="434.8" text-anchor="end">240</text>
<text x="574.9" y="447.6" text-anchor="middle">270</text>
<text x="620.8" y="434.8" text-anchor="start">300</text>
<text x="655.1" y="401.4" text-anchor="start">330</text>
</g>
<text x="458.8" y="265.3" font-family="Liberation Sans, sans-serif" font-size="18" font-weight="bold" fill="#000">f</text>
<path d="M131.5,344.3 L131.5,344.36 L131.51,344.52 L131.54,344.8 L131.59,345.19 L131.68,345.68 L131.81,346.28 L132,346.97 L132.24,347.76 L132.54,348.64 L132.92,349.6 L133.38,350.63 L133.92,351.74 L134.55,352.9 L135.27,354.12 L136.09,355.38 L137.01,356.68 L138.03,358 L139.16,359.34 L140.4,360.69 L141.74,362.03 L143.18,363.36 L144.73,364.67 L146.38,365.95 L148.13,367.19 L149.98,368.38 L151.91,369.51 L153.93,370.57 L156.04,371.55 L158.21,372.45 L160.46,373.26 L162.76,373.96 L165.11,374.57 L167.51,375.06 L169.94,375.43 L172.4,375.68 L174.87,375.81 L177.34,375.81 L179.81,375.67 L182.27,375.41 L184.7,375.01 L187.09,374.48 L189.43,373.82 L191.72,373.02 L193.94,372.1 L196.08,371.05 L198.14,369.88 L200.1,368.59 L201.95,367.19 L203.69,365.68 L205.31,364.08 L206.8,362.38 L208.15,360.59 L209.35,358.73 L210.41,356.8 L211.32,354.81 L212.06,352.77 L212.64,350.69 L213.06,348.57 L213.32,346.44 L213.4,344.3 L213.32,342.16 L213.06,340.03 L212.64,337.91 L212.06,335.83 L211.32,333.79 L210.41,331.8 L209.35,329.87 L208.15,328.01 L206.8,326.22 L205.31,324.52 L203.69,322.92 L201.95,321.41 L200.1,320.01 L198.14,318.72 L196.08,317.55 L193.94,316.5 L191.72,315.58 L189.43,314.78 L187.09,314.12 L184.7,313.59 L182.27,313.19 L179.81,312.93 L177.34,312.79 L174.87,312.79 L172.4,312.92 L169.94,313.17 L167.51,313.54 L165.11,314.03 L162.76,314.64 L160.46,315.34 L158.21,316.15 L156.04,317.05 L153.93,318.03 L151.91,319.09 L149.98,320.22 L148.13,321.41 L146.38,322.65 L144.73,323.93 L143.18,325.24 L141.74,326.57 L140.4,327.91 L139.16,329.26 L138.03,330.6 L137.01,331.92 L136.09,333.22 L135.27,334.48 L134.55,335.7 L133.92,336.86 L133.38,337.97 L132.92,339 L132.54,339.96 L132.24,340.84 L132,341.63 L131.81,342.32 L131.68,342.92 L131.59,343.41 L131.54,343.8 L131.51,344.08 L131.5,344.24 L131.5,344.3Z M131.5,344.3 L131.5,344.24 L131.49,344.08 L131.46,343.8 L131.41,343.41 L131.32,342.92 L131.19,342.32 L131,341.63 L130.76,340.84 L130.46,339.96 L130.08,339 L129.62,337.97 L129.08,336.86 L128.45,335.7 L127.73,334.48 L126.91,333.22 L125.99,331.92 L124.97,330.6 L123.84,329.26 L122.6,327.91 L121.26,326.57 L119.82,325.24 L118.27,323.93 L116.62,322.65 L114.87,321.41 L113.02,320.22 L111.09,319.09 L109.07,318.03 L106.96,317.05 L104.79,316.15 L102.54,315.34 L100.24,314.64 L97.89,314.03 L95.49,313.54 L93.06,313.17 L90.6,312.92 L88.13,312.79 L85.66,312.79 L83.19,312.93 L80.73,313.19 L78.3,313.59 L75.91,314.12 L73.57,314.78 L71.28,315.58 L69.06,316.5 L66.92,317.55 L64.86,318.72 L62.9,320.01 L61.05,321.41 L59.31,322.92 L57.69,324.52 L56.2,326.22 L54.85,328.01 L53.65,329.87 L52.59,331.8 L51.68,333.79 L50.94,335.83 L50.36,337.91 L49.94,340.03 L49.68,342.16 L49.6,344.3 L49.68,346.44 L49.94,348.57 L50.36,350.69 L50.94,352.77 L51.68,354.81 L52.59,356.8 L53.65,358.73 L54.85,360.59 L56.2,362.38 L57.69,364.08 L59.31,365.68 L61.05,367.19 L62.9,368.59 L64.86,369.88 L66.92,371.05 L69.06,372.1 L71.28,373.02 L73.57,373.82 L75.91,374.48 L78.3,375.01 L80.73,375.41 L83.19,375.67 L85.66,375.81 L88.13,375.81 L90.6,375.68 L93.06,375.43 L95.49,375.06 L97.89,374.57 L100.24,373.96 L102.54,373.26 L104.79,372.45 L106.96,371.55 L109.07,370.57 L111.09,369.51 L113.02,368.38 L114.87,367.19 L116.62,365.95 L118.27,364.67 L119.82,363.36 L121.26,362.03 L122.6,360.69 L123.84,359.34 L124.97,358 L125.99,356.68 L126.91,355.38 L127.73,354.12 L128.45,352.9 L129.08,351.74 L129.62,350.63 L130.08,349.6 L130.46,348.64 L130.76,347.76 L131,346.97 L131.19,346.28 L131.32,345.68 L131.41,345.19 L131.46,344.8 L131.49,344.52 L131.5,344.36 L131.5,344.3Z" fill="none" stroke="#d81e1e" stroke-width="2"/>
<text x="100" y="297.2" font-family="Liberation Sans, sans-serif" font-size="17.6" fill="#d81e1e">A<tspan font-size="11" dy="6">g</tspan><tspan dy="-6" dx="-2.2"> mode</tspan></text>
<path d="M353.1,344.3 L353.16,344.3 L353.32,344.29 L353.6,344.26 L353.99,344.21 L354.48,344.12 L355.08,343.99 L355.77,343.8 L356.56,343.56 L357.43,343.26 L358.39,342.88 L359.43,342.43 L360.53,341.89 L361.69,341.26 L362.91,340.54 L364.17,339.72 L365.46,338.8 L366.78,337.77 L368.12,336.65 L369.47,335.41 L370.81,334.08 L372.14,332.63 L373.45,331.08 L374.73,329.44 L375.96,327.69 L377.15,325.85 L378.28,323.91 L379.34,321.89 L380.32,319.79 L381.22,317.62 L382.02,315.38 L382.73,313.08 L383.33,310.73 L383.82,308.33 L384.19,305.91 L384.44,303.45 L384.57,300.99 L384.57,298.51 L384.44,296.05 L384.17,293.6 L383.78,291.17 L383.24,288.78 L382.58,286.44 L381.79,284.15 L380.87,281.93 L379.82,279.79 L378.65,277.74 L377.36,275.78 L375.96,273.93 L374.46,272.2 L372.85,270.58 L371.16,269.09 L369.37,267.75 L367.51,266.54 L365.58,265.48 L363.6,264.58 L361.56,263.84 L359.48,263.25 L357.37,262.84 L355.24,262.58 L353.1,262.5 L350.96,262.58 L348.83,262.84 L346.72,263.25 L344.64,263.84 L342.6,264.58 L340.62,265.48 L338.69,266.54 L336.83,267.75 L335.04,269.09 L333.35,270.58 L331.74,272.2 L330.24,273.93 L328.84,275.78 L327.55,277.74 L326.38,279.79 L325.33,281.93 L324.41,284.15 L323.62,286.44 L322.96,288.78 L322.43,291.17 L322.03,293.6 L321.76,296.05 L321.63,298.51 L321.63,300.99 L321.76,303.45 L322.01,305.91 L322.38,308.33 L322.87,310.73 L323.47,313.08 L324.18,315.38 L324.98,317.62 L325.88,319.79 L326.86,321.89 L327.92,323.91 L329.05,325.85 L330.24,327.69 L331.47,329.44 L332.75,331.08 L334.06,332.63 L335.39,334.08 L336.73,335.41 L338.08,336.65 L339.42,337.77 L340.74,338.8 L342.03,339.72 L343.29,340.54 L344.51,341.26 L345.67,341.89 L346.77,342.43 L347.81,342.88 L348.77,343.26 L349.64,343.56 L350.43,343.8 L351.12,343.99 L351.72,344.12 L352.21,344.21 L352.6,344.26 L352.88,344.29 L353.04,344.3 L353.1,344.3Z M353.1,344.3 L353.04,344.3 L352.88,344.31 L352.6,344.34 L352.21,344.39 L351.72,344.48 L351.12,344.61 L350.43,344.8 L349.64,345.04 L348.77,345.34 L347.81,345.72 L346.77,346.17 L345.67,346.71 L344.51,347.34 L343.29,348.06 L342.03,348.88 L340.74,349.8 L339.42,350.83 L338.08,351.95 L336.73,353.19 L335.39,354.52 L334.06,355.97 L332.75,357.52 L331.47,359.16 L330.24,360.91 L329.05,362.75 L327.92,364.69 L326.86,366.71 L325.88,368.81 L324.98,370.98 L324.18,373.22 L323.47,375.52 L322.87,377.87 L322.38,380.27 L322.01,382.69 L321.76,385.15 L321.63,387.61 L321.63,390.09 L321.76,392.55 L322.03,395 L322.43,397.43 L322.96,399.82 L323.62,402.16 L324.41,404.45 L325.33,406.67 L326.38,408.81 L327.55,410.86 L328.84,412.82 L330.24,414.67 L331.74,416.4 L333.35,418.02 L335.04,419.51 L336.83,420.85 L338.69,422.06 L340.62,423.12 L342.6,424.02 L344.64,424.76 L346.72,425.35 L348.83,425.76 L350.96,426.02 L353.1,426.1 L355.24,426.02 L357.37,425.76 L359.48,425.35 L361.56,424.76 L363.6,424.02 L365.58,423.12 L367.51,422.06 L369.37,420.85 L371.16,419.51 L372.85,418.02 L374.46,416.4 L375.96,414.67 L377.36,412.82 L378.65,410.86 L379.82,408.81 L380.87,406.67 L381.79,404.45 L382.58,402.16 L383.24,399.82 L383.77,397.43 L384.17,395 L384.44,392.55 L384.57,390.09 L384.57,387.61 L384.44,385.15 L384.19,382.69 L383.82,380.27 L383.33,377.87 L382.73,375.52 L382.02,373.22 L381.22,370.98 L380.32,368.81 L379.34,366.71 L378.28,364.69 L377.15,362.75 L375.96,360.91 L374.73,359.16 L373.45,357.52 L372.14,355.97 L370.81,354.52 L369.47,353.19 L368.12,351.95 L366.78,350.83 L365.46,349.8 L364.17,348.88 L362.91,348.06 L361.69,347.34 L360.53,346.71 L359.43,346.17 L358.39,345.72 L357.43,345.34 L356.56,345.04 L355.77,344.8 L355.08,344.61 L354.48,344.48 L353.99,344.39 L353.6,344.34 L353.32,344.31 L353.16,344.3 L353.1,344.3Z" fill="none" stroke="#1515c8" stroke-width="2"/>
<text x="271.3" y="350.5" font-family="Liberation Sans, sans-serif" font-size="17.6" fill="#1515c8">B<tspan font-size="11" dy="6">g</tspan><tspan dy="-6" dx="-2.2"> mode</tspan></text>
<path d="M574.3,344.3 C574,341.18 575.43,337.42 577.1,333.9 C578.77,330.38 581.32,326.33 584.3,323.2 C587.28,320.07 590.85,317.13 595,315.1 C599.15,313.07 604.45,311.5 609.2,311 C613.95,310.5 619.05,310.97 623.5,312.1 C627.95,313.23 632.48,315.37 635.9,317.8 C639.32,320.23 642.15,323.43 644,326.7 C645.85,329.97 646.85,333.83 647,337.4 C647.15,340.97 646.45,344.53 644.9,348.1 C643.35,351.67 640.68,355.83 637.7,358.8 C634.72,361.77 631.15,364.42 627,365.9 C622.85,367.38 617.55,367.7 612.8,367.7 C608.05,367.7 602.67,367.08 598.5,365.9 C594.33,364.72 591.07,362.82 587.8,360.6 C584.53,358.38 581.15,355.32 578.9,352.6 C576.65,349.88 574.6,347.42 574.3,344.3Z" fill="none" stroke="#d81e1e" stroke-width="2"/>
<path d="M574.3,344.3 C574.3,341.03 571.83,339.15 569.9,336.7 C567.97,334.25 565.68,331.67 562.7,329.6 C559.72,327.53 556.15,325.55 552,324.3 C547.85,323.05 542.55,322.25 537.8,322.1 C533.05,321.95 527.97,322.15 523.5,323.4 C519.03,324.65 514.27,327.08 511,329.6 C507.73,332.12 505.38,335.38 503.9,338.5 C502.42,341.62 501.95,344.88 502.1,348.3 C502.25,351.72 503.02,355.58 504.8,359 C506.58,362.42 509.68,365.98 512.8,368.8 C515.92,371.62 519.63,374.35 523.5,375.9 C527.37,377.45 531.83,378.1 536,378.1 C540.17,378.1 544.35,377.75 548.5,375.9 C552.65,374.05 557.33,370.27 560.9,367 C564.47,363.73 567.67,360.08 569.9,356.3 C572.13,352.52 574.3,347.57 574.3,344.3Z" fill="none" stroke="#d81e1e" stroke-width="2"/>
<path d="M574.3,344.3 C571.45,343.3 566.83,339.42 563.9,336.3 C560.97,333.18 558.33,329.17 556.7,325.6 C555.07,322.03 554.68,318.17 554.1,314.9 C553.52,311.63 553.05,309.27 553.2,306 C553.35,302.73 553.82,298.87 555,295.3 C556.18,291.73 558.08,287.42 560.3,284.6 C562.52,281.78 565.03,279.73 568.3,278.4 C571.57,277.07 575.88,276.45 579.9,276.6 C583.92,276.75 588.83,277.67 592.4,279.3 C595.97,280.93 599.08,283.73 601.3,286.4 C603.52,289.07 604.75,292.33 605.7,295.3 C606.65,298.27 607,300.93 607,304.2 C607,307.47 606.65,311.33 605.7,314.9 C604.75,318.47 603.52,322.03 601.3,325.6 C599.08,329.17 595.78,333.52 592.4,336.3 C589.02,339.08 584.02,340.97 581,342.3 C577.98,343.63 577.15,345.3 574.3,344.3Z" fill="none" stroke="#1515c8" stroke-width="2"/>
<path d="M574.3,344.3 C571.63,344.45 567.42,346.35 563.9,348.9 C560.38,351.45 556.33,355.73 553.2,359.6 C550.07,363.47 546.83,367.93 545.1,372.1 C543.37,376.27 542.8,380.45 542.8,384.6 C542.8,388.75 543.37,393.15 545.1,397 C546.83,400.85 549.78,405.02 553.2,407.7 C556.62,410.38 561.75,412.5 565.6,413.1 C569.45,413.7 572.73,412.78 576.3,411.3 C579.87,409.82 584.02,407.47 587,404.2 C589.98,400.93 592.77,395.87 594.2,391.7 C595.63,387.53 595.75,383.37 595.6,379.2 C595.45,375.03 594.73,370.57 593.3,366.7 C591.87,362.83 589.23,359.12 587,356 C584.77,352.88 582.02,349.95 579.9,348 C577.78,346.05 576.97,344.15 574.3,344.3Z" fill="none" stroke="#1515c8" stroke-width="2"/>
<text x="489.3" y="319.3" font-family="Liberation Sans, sans-serif" font-size="17.6" fill="#d81e1e">A<tspan font-size="11" dy="6">g</tspan><tspan dy="-6" dx="-2.2"> mode</tspan></text>
<text x="595.9" y="384.5" font-family="Liberation Sans, sans-serif" font-size="17.6" fill="#1515c8">B<tspan font-size="11" dy="6">g</tspan><tspan dy="-6" dx="-2.2"> mode</tspan></text>
<text x="547" y="273.6" font-family="Liberation Serif, serif" font-size="16.3" fill="#111"><tspan font-style="italic">θ</tspan><tspan font-size="9.8" dy="5.6">0</tspan><tspan dy="-5.6" dx="0.3">=</tspan><tspan dx="1.4">−</tspan><tspan dx="0.1">86°</tspan></text>
</svg>
</body></html>
